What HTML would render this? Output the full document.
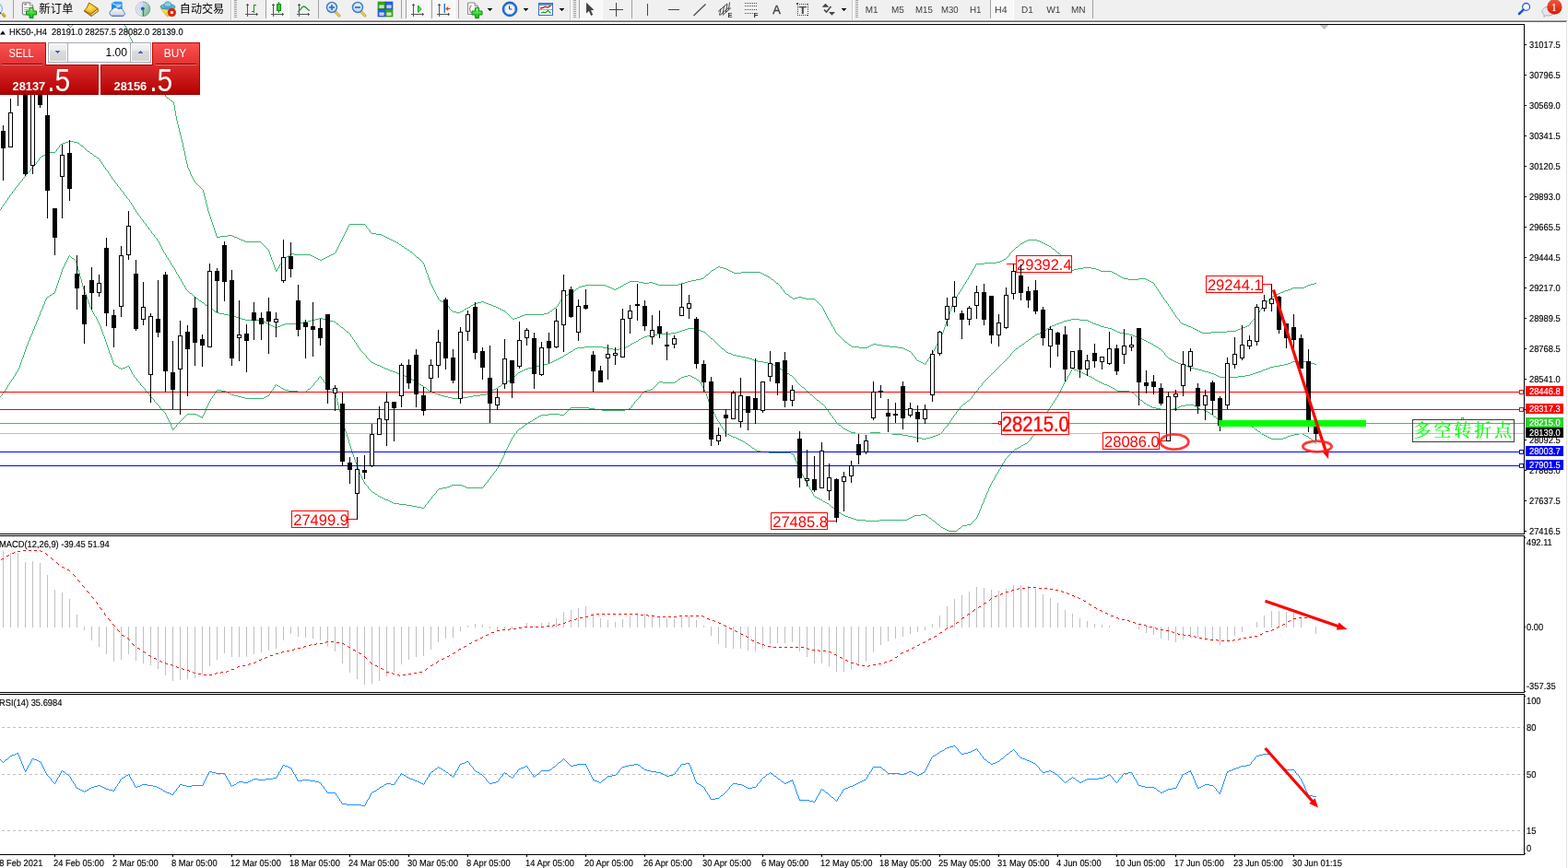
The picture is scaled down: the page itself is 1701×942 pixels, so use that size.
<!DOCTYPE html>
<html lang="zh"><head><meta charset="utf-8"><title>HK50-,H4</title>
<style>
html,body{margin:0;padding:0;background:#fff}
body{width:1701px;height:942px;position:relative;overflow:hidden;font-family:"Liberation Sans","Noto Sans CJK SC",sans-serif}
svg{position:absolute;left:0;top:0}
.t{position:absolute;white-space:nowrap;font-family:"Liberation Sans","Noto Sans CJK SC",sans-serif;font-size:10.17px;line-height:14px;height:14px;text-rendering:geometricPrecision;transform:scaleX(0.9174);transform-origin:0 0;-webkit-text-stroke:0.15px #000}
.tag{position:absolute;left:1655px;width:41px;height:11px;overflow:hidden}.tag div{position:absolute;left:3.6px;top:0px;color:#fff;font-size:10.17px;line-height:14px;white-space:nowrap;text-rendering:geometricPrecision;transform:scaleX(0.9174);transform-origin:0 0;-webkit-text-stroke:0.15px #fff}
.lab{position:absolute;border:1px solid #ff0000;color:#ff0000;text-align:center;white-space:nowrap}
.tbox{position:absolute;left:1532px;top:455px;width:109px;height:23px;border:1px solid #3c3c3c;color:#00ff00;font-family:"Liberation Serif","Noto Serif CJK SC",serif;font-weight:400;font-size:19px;line-height:23px;letter-spacing:2.9px;text-indent:0.5px;text-align:left;white-space:nowrap;-webkit-text-stroke:0.12px #00ff00}
#edge{position:absolute;left:1699px;top:24px;width:1px;height:918px;background:#e4e4e4}

</style></head>
<body>
<svg width="1701" height="942" viewBox="0 0 1701 942" shape-rendering="crispEdges">
<path d="M73 27h2v1h-2zM72 26h1v1h-1zM75 28h1v1h-1zM76 29h1v1h-1zM77 28h1v1h-1zM78 27h1v1h-1zM79 26h1v1h-1zM181 106h2v1h-2zM185 109h2v1h-2zM379 243h17v1h-17zM403 253h5v1h-5zM408 254h6v1h-6zM247 255h5v1h-5zM414 255h2v1h-2zM239 256h8v1h-8zM252 256h2v1h-2zM416 256h2v1h-2zM235 257h4v1h-4zM254 257h3v1h-3zM418 257h2v1h-2zM257 258h2v1h-2zM420 258h2v1h-2zM259 259h2v1h-2zM422 259h2v1h-2zM261 260h3v1h-3zM424 260h2v1h-2zM1115 260h10v1h-10zM264 261h2v1h-2zM426 261h2v1h-2zM1113 261h2v1h-2zM1125 261h3v1h-3zM266 262h17v1h-17zM428 262h2v1h-2zM1111 262h2v1h-2zM1128 262h2v1h-2zM430 263h2v1h-2zM1109 263h2v1h-2zM1130 263h2v1h-2zM1107 264h2v1h-2zM1132 264h2v1h-2zM433 265h2v1h-2zM1134 265h2v1h-2zM1136 266h2v1h-2zM436 267h2v1h-2zM1138 267h2v1h-2zM1102 268h2v1h-2zM439 269h2v1h-2zM1142 270h2v1h-2zM442 271h2v1h-2zM445 273h2v1h-2zM1147 274h2v1h-2zM316 275h3v1h-3zM361 275h2v1h-2zM314 276h2v1h-2zM319 276h18v1h-18zM359 276h2v1h-2zM337 277h2v1h-2zM357 277h2v1h-2zM311 278h2v1h-2zM339 278h2v1h-2zM355 278h2v1h-2zM309 279h2v1h-2zM341 279h2v1h-2zM353 279h2v1h-2zM452 279h2v1h-2zM343 280h2v1h-2zM351 280h2v1h-2zM345 281h2v1h-2zM349 281h2v1h-2zM1089 281h2v1h-2zM347 282h2v1h-2zM1087 282h2v1h-2zM1085 283h2v1h-2zM1081 284h4v1h-4zM1068 285h13v1h-13zM1059 286h9v1h-9zM779 289h2v1h-2zM777 290h2v1h-2zM781 290h4v1h-4zM1175 290h9v1h-9zM785 291h3v1h-3zM1169 291h6v1h-6zM1184 291h5v1h-5zM774 292h2v1h-2zM788 292h2v1h-2zM1165 292h4v1h-4zM1189 292h3v1h-3zM299 293h2v1h-2zM772 293h2v1h-2zM790 293h2v1h-2zM1163 293h2v1h-2zM1192 293h2v1h-2zM792 294h2v1h-2zM1194 294h12v1h-12zM794 295h2v1h-2zM804 295h21v1h-21zM1206 295h2v1h-2zM796 296h8v1h-8zM825 296h2v1h-2zM1208 296h2v1h-2zM827 297h2v1h-2zM1210 297h2v1h-2zM766 298h2v1h-2zM829 298h2v1h-2zM831 299h2v1h-2zM1213 299h2v1h-2zM833 300h2v1h-2zM1215 300h2v1h-2zM1217 301h2v1h-2zM760 302h3v1h-3zM1219 302h5v1h-5zM1235 302h8v1h-8zM755 303h5v1h-5zM837 303h2v1h-2zM1224 303h11v1h-11zM1243 303h2v1h-2zM750 304h5v1h-5zM1245 304h2v1h-2zM683 305h10v1h-10zM746 305h4v1h-4zM1247 305h2v1h-2zM681 306h2v1h-2zM693 306h5v1h-5zM704 306h4v1h-4zM743 306h3v1h-3zM1249 306h2v1h-2zM679 307h2v1h-2zM698 307h6v1h-6zM708 307h3v1h-3zM739 307h4v1h-4zM842 307h2v1h-2zM1426 307h2v1h-2zM677 308h2v1h-2zM711 308h3v1h-3zM736 308h3v1h-3zM1422 308h4v1h-4zM635 309h22v1h-22zM714 309h22v1h-22zM1419 309h3v1h-3zM631 310h4v1h-4zM657 310h2v1h-2zM674 310h2v1h-2zM1417 310h2v1h-2zM628 311h3v1h-3zM659 311h3v1h-3zM672 311h2v1h-2zM1415 311h2v1h-2zM662 312h2v1h-2zM670 312h2v1h-2zM1402 312h13v1h-13zM625 313h2v1h-2zM664 313h2v1h-2zM668 313h2v1h-2zM1400 313h2v1h-2zM666 314h2v1h-2zM1397 314h3v1h-3zM1394 315h3v1h-3zM621 316h2v1h-2zM1392 316h2v1h-2zM1389 317h3v1h-3zM618 318h2v1h-2zM1387 318h2v1h-2zM616 319h2v1h-2zM853 319h2v1h-2zM1385 319h2v1h-2zM613 320h3v1h-3zM1383 320h2v1h-2zM611 321h2v1h-2zM1381 321h2v1h-2zM857 322h2v1h-2zM866 322h4v1h-4zM1379 322h2v1h-2zM862 323h4v1h-4zM870 323h4v1h-4zM860 324h2v1h-2zM874 324h10v1h-10zM477 326h2v1h-2zM479 327h2v1h-2zM522 327h3v1h-3zM481 328h2v1h-2zM518 328h4v1h-4zM525 328h2v1h-2zM515 329h3v1h-3zM527 329h3v1h-3zM513 330h2v1h-2zM530 330h3v1h-3zM511 331h2v1h-2zM533 331h2v1h-2zM535 332h3v1h-3zM508 333h2v1h-2zM538 333h2v1h-2zM506 334h2v1h-2zM540 334h2v1h-2zM601 334h2v1h-2zM504 335h2v1h-2zM542 335h2v1h-2zM544 336h2v1h-2zM501 337h2v1h-2zM546 337h2v1h-2zM597 337h2v1h-2zM491 338h4v1h-4zM499 338h2v1h-2zM495 339h4v1h-4zM594 339h2v1h-2zM590 340h4v1h-4zM569 341h21v1h-21zM566 342h3v1h-3zM564 343h2v1h-2zM561 344h3v1h-3zM558 345h3v1h-3zM556 346h2v1h-2zM1282 351h2v1h-2zM1284 352h3v1h-3zM1287 353h2v1h-2zM1353 353h2v1h-2zM1289 354h3v1h-3zM1351 354h2v1h-2zM1292 355h2v1h-2zM1348 355h3v1h-3zM1294 356h2v1h-2zM1346 356h2v1h-2zM1296 357h2v1h-2zM1343 357h3v1h-3zM1298 358h2v1h-2zM1341 358h2v1h-2zM1300 359h2v1h-2zM1331 359h10v1h-10zM1302 360h2v1h-2zM1314 360h17v1h-17zM1304 361h10v1h-10zM917 371h2v1h-2zM947 373h4v1h-4zM921 374h2v1h-2zM945 374h2v1h-2zM951 374h6v1h-6zM943 375h2v1h-2zM957 375h8v1h-8zM924 376h8v1h-8zM941 376h2v1h-2zM965 376h9v1h-9zM932 377h9v1h-9zM974 377h6v1h-6zM980 378h2v1h-2zM982 379h2v1h-2zM984 380h2v1h-2zM986 381h2v1h-2zM995 391h2v1h-2zM997 392h2v1h-2zM999 393h2v1h-2zM1001 394h2v1h-2zM135 26h1v2h-1zM136 28h1v2h-1zM137 30h1v3h-1zM138 33h1v2h-1zM139 35h1v2h-1zM140 37h1v3h-1zM141 40h1v2h-1zM142 42h1v2h-1zM143 44h1v2h-1zM144 46h1v2h-1zM145 48h1v2h-1zM146 50h1v2h-1zM147 52h1v1h-1zM148 53h1v2h-1zM149 55h1v2h-1zM150 57h1v2h-1zM151 59h1v1h-1zM152 60h1v2h-1zM153 62h1v2h-1zM154 64h1v2h-1zM155 66h1v2h-1zM156 68h1v1h-1zM157 69h1v2h-1zM158 71h1v2h-1zM159 73h1v2h-1zM160 75h1v1h-1zM161 76h1v2h-1zM162 78h1v1h-1zM163 79h1v2h-1zM164 81h1v1h-1zM165 82h1v2h-1zM166 84h1v1h-1zM167 85h1v2h-1zM168 87h1v1h-1zM169 88h1v2h-1zM170 90h1v1h-1zM171 91h1v2h-1zM172 93h1v1h-1zM173 94h1v2h-1zM174 96h1v1h-1zM175 97h1v2h-1zM176 99h1v1h-1zM177 100h1v2h-1zM178 102h1v1h-1zM179 103h1v2h-1zM180 105h1v1h-1zM183 107h1v1h-1zM184 108h1v1h-1zM187 110h1v1h-1zM188 111h1v3h-1zM189 114h1v6h-1zM190 120h1v6h-1zM191 126h1v5h-1zM192 131h1v4h-1zM193 135h1v4h-1zM194 139h1v4h-1zM195 143h1v4h-1zM196 147h1v4h-1zM197 151h1v4h-1zM198 155h1v5h-1zM199 160h1v4h-1zM200 164h1v5h-1zM201 169h1v5h-1zM202 174h1v4h-1zM203 178h1v4h-1zM204 182h1v2h-1zM205 184h1v2h-1zM206 186h1v3h-1zM207 189h1v2h-1zM208 191h1v2h-1zM209 193h1v2h-1zM210 195h1v2h-1zM211 197h1v1h-1zM212 198h1v1h-1zM213 199h1v1h-1zM214 200h1v1h-1zM215 201h1v1h-1zM216 202h1v1h-1zM217 203h1v1h-1zM218 204h1v1h-1zM219 205h1v1h-1zM220 206h1v3h-1zM221 209h1v4h-1zM222 213h1v4h-1zM223 217h1v4h-1zM224 221h1v4h-1zM225 225h1v4h-1zM226 229h1v3h-1zM227 232h1v3h-1zM228 235h1v3h-1zM229 238h1v3h-1zM230 241h1v3h-1zM231 244h1v3h-1zM232 247h1v3h-1zM233 250h1v3h-1zM234 253h1v3h-1zM235 256h1v1h-1zM283 263h1v1h-1zM284 264h1v1h-1zM285 265h1v1h-1zM286 266h1v1h-1zM287 267h1v1h-1zM288 268h1v1h-1zM289 269h1v1h-1zM290 270h1v1h-1zM291 271h1v2h-1zM292 273h1v3h-1zM293 276h1v3h-1zM294 279h1v3h-1zM295 282h1v2h-1zM296 284h1v3h-1zM297 287h1v3h-1zM298 290h1v3h-1zM299 294h1v1h-1zM300 292h1v1h-1zM301 291h1v1h-1zM302 289h1v2h-1zM303 287h1v2h-1zM304 286h1v1h-1zM305 284h1v2h-1zM306 283h1v1h-1zM307 281h1v2h-1zM308 280h1v1h-1zM313 277h1v1h-1zM363 274h1v1h-1zM364 272h1v2h-1zM365 270h1v2h-1zM366 268h1v2h-1zM367 266h1v2h-1zM368 264h1v2h-1zM369 262h1v2h-1zM370 260h1v2h-1zM371 258h1v2h-1zM372 256h1v2h-1zM373 254h1v2h-1zM374 252h1v2h-1zM375 250h1v2h-1zM376 248h1v2h-1zM377 246h1v2h-1zM378 244h1v2h-1zM396 244h1v1h-1zM397 245h1v2h-1zM398 247h1v1h-1zM399 248h1v1h-1zM400 249h1v1h-1zM401 250h1v2h-1zM402 252h1v1h-1zM432 264h1v1h-1zM435 266h1v1h-1zM438 268h1v1h-1zM441 270h1v1h-1zM444 272h1v1h-1zM447 274h1v1h-1zM448 275h1v1h-1zM449 276h1v1h-1zM450 277h1v1h-1zM451 278h1v1h-1zM454 280h1v1h-1zM455 281h1v1h-1zM456 282h1v1h-1zM457 283h1v1h-1zM458 284h1v1h-1zM459 285h1v2h-1zM460 287h1v3h-1zM461 290h1v3h-1zM462 293h1v3h-1zM463 296h1v2h-1zM464 298h1v3h-1zM465 301h1v3h-1zM466 304h1v3h-1zM467 307h1v2h-1zM468 309h1v2h-1zM469 311h1v2h-1zM470 313h1v2h-1zM471 315h1v2h-1zM472 317h1v2h-1zM473 319h1v2h-1zM474 321h1v2h-1zM475 323h1v2h-1zM476 325h1v1h-1zM483 329h1v1h-1zM484 330h1v1h-1zM485 331h1v1h-1zM486 332h1v1h-1zM487 333h1v2h-1zM488 335h1v1h-1zM489 336h1v1h-1zM490 337h1v1h-1zM503 336h1v1h-1zM510 332h1v1h-1zM548 338h1v1h-1zM549 339h1v1h-1zM550 340h1v1h-1zM551 341h1v1h-1zM552 342h1v1h-1zM553 343h1v1h-1zM554 344h1v1h-1zM555 345h1v1h-1zM596 338h1v1h-1zM599 336h1v1h-1zM600 335h1v1h-1zM603 333h1v1h-1zM604 332h1v1h-1zM605 330h1v2h-1zM606 329h1v1h-1zM607 327h1v2h-1zM608 325h1v2h-1zM609 324h1v1h-1zM610 322h1v2h-1zM620 317h1v1h-1zM623 315h1v1h-1zM624 314h1v1h-1zM627 312h1v1h-1zM676 309h1v1h-1zM763 301h1v1h-1zM764 300h1v1h-1zM765 299h1v1h-1zM768 297h1v1h-1zM769 296h1v1h-1zM770 295h1v1h-1zM771 294h1v1h-1zM776 291h1v1h-1zM835 301h1v1h-1zM836 302h1v1h-1zM839 304h1v1h-1zM840 305h1v1h-1zM841 306h1v1h-1zM844 308h1v1h-1zM845 309h1v1h-1zM846 310h1v1h-1zM847 311h1v2h-1zM848 313h1v1h-1zM849 314h1v1h-1zM850 315h1v2h-1zM851 317h1v1h-1zM852 318h1v1h-1zM855 320h1v1h-1zM856 321h1v1h-1zM859 323h1v1h-1zM884 325h1v1h-1zM885 326h1v1h-1zM886 327h1v1h-1zM887 328h1v1h-1zM888 329h1v1h-1zM889 330h1v1h-1zM890 331h1v1h-1zM891 332h1v1h-1zM892 333h1v2h-1zM893 335h1v2h-1zM894 337h1v2h-1zM895 339h1v2h-1zM896 341h1v2h-1zM897 343h1v2h-1zM898 345h1v2h-1zM899 347h1v1h-1zM900 348h1v2h-1zM901 350h1v2h-1zM902 352h1v2h-1zM903 354h1v1h-1zM904 355h1v2h-1zM905 357h1v2h-1zM906 359h1v2h-1zM907 361h1v1h-1zM908 362h1v1h-1zM909 363h1v1h-1zM910 364h1v1h-1zM911 365h1v1h-1zM912 366h1v1h-1zM913 367h1v1h-1zM914 368h1v1h-1zM915 369h1v1h-1zM916 370h1v1h-1zM919 372h1v1h-1zM920 373h1v1h-1zM923 375h1v1h-1zM988 382h1v1h-1zM989 383h1v2h-1zM990 385h1v1h-1zM991 386h1v1h-1zM992 387h1v1h-1zM993 388h1v2h-1zM994 390h1v1h-1zM1003 395h1v1h-1zM1004 393h1v2h-1zM1005 392h1v1h-1zM1006 390h1v2h-1zM1007 389h1v1h-1zM1008 387h1v2h-1zM1009 386h1v1h-1zM1010 384h1v2h-1zM1011 383h1v1h-1zM1012 381h1v2h-1zM1013 379h1v2h-1zM1014 377h1v2h-1zM1015 375h1v2h-1zM1016 373h1v2h-1zM1017 371h1v2h-1zM1018 369h1v2h-1zM1019 367h1v2h-1zM1020 365h1v2h-1zM1021 363h1v2h-1zM1022 361h1v2h-1zM1023 358h1v3h-1zM1024 355h1v3h-1zM1025 352h1v3h-1zM1026 349h1v3h-1zM1027 346h1v3h-1zM1028 343h1v3h-1zM1029 341h1v2h-1zM1030 338h1v3h-1zM1031 335h1v3h-1zM1032 332h1v3h-1zM1033 330h1v2h-1zM1034 327h1v3h-1zM1035 325h1v2h-1zM1036 323h1v2h-1zM1037 322h1v1h-1zM1038 320h1v2h-1zM1039 319h1v1h-1zM1040 317h1v2h-1zM1041 316h1v1h-1zM1042 314h1v2h-1zM1043 313h1v1h-1zM1044 311h1v2h-1zM1045 309h1v2h-1zM1046 308h1v1h-1zM1047 306h1v2h-1zM1048 304h1v2h-1zM1049 303h1v1h-1zM1050 301h1v2h-1zM1051 299h1v2h-1zM1052 298h1v1h-1zM1053 296h1v2h-1zM1054 294h1v2h-1zM1055 292h1v2h-1zM1056 291h1v1h-1zM1057 289h1v2h-1zM1058 287h1v2h-1zM1091 280h1v1h-1zM1092 279h1v1h-1zM1093 278h1v1h-1zM1094 277h1v1h-1zM1095 275h1v2h-1zM1096 274h1v1h-1zM1097 273h1v1h-1zM1098 272h1v1h-1zM1099 271h1v1h-1zM1100 270h1v1h-1zM1101 269h1v1h-1zM1104 267h1v1h-1zM1105 266h1v1h-1zM1106 265h1v1h-1zM1140 268h1v1h-1zM1141 269h1v1h-1zM1144 271h1v1h-1zM1145 272h1v1h-1zM1146 273h1v1h-1zM1149 275h1v1h-1zM1150 276h1v1h-1zM1151 277h1v2h-1zM1152 279h1v1h-1zM1153 280h1v1h-1zM1154 281h1v2h-1zM1155 283h1v1h-1zM1156 284h1v1h-1zM1157 285h1v1h-1zM1158 286h1v2h-1zM1159 288h1v1h-1zM1160 289h1v1h-1zM1161 290h1v2h-1zM1162 292h1v1h-1zM1212 298h1v1h-1zM1251 307h1v1h-1zM1252 308h1v2h-1zM1253 310h1v1h-1zM1254 311h1v2h-1zM1255 313h1v1h-1zM1256 314h1v2h-1zM1257 316h1v1h-1zM1258 317h1v2h-1zM1259 319h1v1h-1zM1260 320h1v2h-1zM1261 322h1v1h-1zM1262 323h1v2h-1zM1263 325h1v1h-1zM1264 326h1v1h-1zM1265 327h1v2h-1zM1266 329h1v1h-1zM1267 330h1v2h-1zM1268 332h1v1h-1zM1269 333h1v2h-1zM1270 335h1v1h-1zM1271 336h1v2h-1zM1272 338h1v1h-1zM1273 339h1v2h-1zM1274 341h1v1h-1zM1275 342h1v2h-1zM1276 344h1v1h-1zM1277 345h1v1h-1zM1278 346h1v1h-1zM1279 347h1v2h-1zM1280 349h1v1h-1zM1281 350h1v1h-1zM1355 352h1v1h-1zM1356 350h1v2h-1zM1357 349h1v1h-1zM1358 348h1v1h-1zM1359 347h1v1h-1zM1360 346h1v1h-1zM1361 344h1v2h-1zM1362 343h1v1h-1zM1363 342h1v1h-1zM1364 340h1v2h-1zM1365 339h1v1h-1zM1366 337h1v2h-1zM1367 336h1v1h-1zM1368 334h1v2h-1zM1369 333h1v1h-1zM1370 331h1v2h-1zM1371 330h1v1h-1zM1372 329h1v1h-1zM1373 328h1v1h-1zM1374 327h1v1h-1zM1375 326h1v1h-1zM1376 325h1v1h-1zM1377 324h1v1h-1zM1378 323h1v1h-1zM74 153h6v1h-6zM71 154h3v1h-3zM80 154h4v1h-4zM68 155h3v1h-3zM84 155h2v1h-2zM66 156h2v1h-2zM88 158h2v1h-2zM95 164h2v1h-2zM54 165h6v1h-6zM51 166h3v1h-3zM98 166h2v1h-2zM49 167h2v1h-2zM47 168h2v1h-2zM45 169h2v1h-2zM102 169h2v1h-2zM105 171h2v1h-2zM206 318h2v1h-2zM212 323h2v1h-2zM216 326h2v1h-2zM219 328h2v1h-2zM223 331h2v1h-2zM226 333h2v1h-2zM229 335h2v1h-2zM233 338h2v1h-2zM235 339h3v1h-3zM238 340h5v1h-5zM243 341h5v1h-5zM248 342h4v1h-4zM252 343h4v1h-4zM256 344h3v1h-3zM259 345h3v1h-3zM346 345h4v1h-4zM262 346h4v1h-4zM342 346h4v1h-4zM350 346h4v1h-4zM1162 346h9v1h-9zM266 347h18v1h-18zM338 347h4v1h-4zM354 347h4v1h-4zM1158 347h4v1h-4zM1171 347h9v1h-9zM284 348h2v1h-2zM334 348h4v1h-4zM358 348h4v1h-4zM1154 348h4v1h-4zM1180 348h2v1h-2zM286 349h2v1h-2zM329 349h5v1h-5zM362 349h2v1h-2zM1152 349h2v1h-2zM1182 349h2v1h-2zM288 350h2v1h-2zM323 350h6v1h-6zM1149 350h3v1h-3zM1184 350h2v1h-2zM290 351h2v1h-2zM309 351h14v1h-14zM365 351h2v1h-2zM1146 351h3v1h-3zM1186 351h3v1h-3zM292 352h2v1h-2zM306 352h3v1h-3zM1144 352h2v1h-2zM1189 352h3v1h-3zM294 353h2v1h-2zM304 353h2v1h-2zM1141 353h3v1h-3zM1192 353h2v1h-2zM296 354h2v1h-2zM301 354h3v1h-3zM1139 354h2v1h-2zM1194 354h4v1h-4zM298 355h3v1h-3zM370 355h2v1h-2zM1198 355h4v1h-4zM746 356h8v1h-8zM1136 356h2v1h-2zM1202 356h4v1h-4zM743 357h3v1h-3zM754 357h3v1h-3zM1206 357h2v1h-2zM740 358h3v1h-3zM757 358h3v1h-3zM1208 358h2v1h-2zM737 359h3v1h-3zM760 359h3v1h-3zM1132 359h2v1h-2zM1210 359h2v1h-2zM376 360h2v1h-2zM734 360h3v1h-3zM763 360h2v1h-2zM1130 360h2v1h-2zM1212 360h3v1h-3zM728 361h6v1h-6zM1128 361h2v1h-2zM1215 361h5v1h-5zM713 362h15v1h-15zM1125 362h3v1h-3zM1220 362h5v1h-5zM708 363h5v1h-5zM1123 363h2v1h-2zM1225 363h4v1h-4zM702 364h6v1h-6zM1229 364h2v1h-2zM699 365h3v1h-3zM1120 365h2v1h-2zM1231 365h3v1h-3zM697 366h2v1h-2zM1234 366h2v1h-2zM695 367h2v1h-2zM771 367h2v1h-2zM1236 367h3v1h-3zM693 368h2v1h-2zM1116 368h2v1h-2zM1239 368h2v1h-2zM1241 369h2v1h-2zM690 370h2v1h-2zM1113 370h2v1h-2zM1243 370h2v1h-2zM688 371h2v1h-2zM1245 371h2v1h-2zM686 372h2v1h-2zM1247 372h2v1h-2zM684 373h2v1h-2zM1109 373h2v1h-2zM1249 373h2v1h-2zM681 375h2v1h-2zM1106 375h2v1h-2zM1252 375h2v1h-2zM634 376h20v1h-20zM679 376h2v1h-2zM1254 376h2v1h-2zM626 377h8v1h-8zM654 377h6v1h-6zM677 377h2v1h-2zM624 378h2v1h-2zM660 378h5v1h-5zM672 378h5v1h-5zM783 378h2v1h-2zM1102 378h2v1h-2zM1257 378h2v1h-2zM622 379h2v1h-2zM665 379h7v1h-7zM619 381h2v1h-2zM617 382h2v1h-2zM788 382h2v1h-2zM790 383h3v1h-3zM614 384h2v1h-2zM793 384h2v1h-2zM612 385h2v1h-2zM795 385h4v1h-4zM799 386h5v1h-5zM609 387h2v1h-2zM804 387h5v1h-5zM607 388h2v1h-2zM809 388h4v1h-4zM605 389h2v1h-2zM813 389h3v1h-3zM1268 389h2v1h-2zM603 390h2v1h-2zM816 390h2v1h-2zM1270 390h2v1h-2zM601 391h2v1h-2zM818 391h4v1h-4zM1272 391h2v1h-2zM599 392h2v1h-2zM822 392h6v1h-6zM1274 392h2v1h-2zM1402 392h15v1h-15zM403 393h2v1h-2zM597 393h2v1h-2zM828 393h5v1h-5zM1276 393h2v1h-2zM1400 393h2v1h-2zM1417 393h5v1h-5zM405 394h2v1h-2zM594 394h3v1h-3zM833 394h4v1h-4zM1278 394h3v1h-3zM1397 394h3v1h-3zM1422 394h4v1h-4zM407 395h2v1h-2zM590 395h4v1h-4zM837 395h2v1h-2zM1281 395h3v1h-3zM1393 395h4v1h-4zM1426 395h2v1h-2zM409 396h3v1h-3zM586 396h4v1h-4zM839 396h2v1h-2zM1284 396h3v1h-3zM1388 396h5v1h-5zM412 397h2v1h-2zM582 397h4v1h-4zM841 397h2v1h-2zM1287 397h2v1h-2zM1382 397h6v1h-6zM414 398h2v1h-2zM577 398h5v1h-5zM843 398h2v1h-2zM1289 398h3v1h-3zM1378 398h4v1h-4zM416 399h2v1h-2zM573 399h4v1h-4zM1292 399h4v1h-4zM1376 399h2v1h-2zM418 400h3v1h-3zM570 400h3v1h-3zM846 400h2v1h-2zM1296 400h4v1h-4zM1373 400h3v1h-3zM421 401h2v1h-2zM568 401h2v1h-2zM1300 401h4v1h-4zM1370 401h3v1h-3zM423 402h3v1h-3zM566 402h2v1h-2zM849 402h2v1h-2zM1304 402h3v1h-3zM1368 402h2v1h-2zM426 403h3v1h-3zM564 403h2v1h-2zM1307 403h4v1h-4zM1365 403h3v1h-3zM429 404h2v1h-2zM562 404h2v1h-2zM852 404h2v1h-2zM1311 404h3v1h-3zM1362 404h3v1h-3zM431 405h3v1h-3zM854 405h2v1h-2zM1314 405h3v1h-3zM1359 405h3v1h-3zM434 406h2v1h-2zM1317 406h2v1h-2zM1356 406h3v1h-3zM436 407h3v1h-3zM857 407h2v1h-2zM1319 407h2v1h-2zM1351 407h5v1h-5zM439 408h2v1h-2zM1321 408h2v1h-2zM1343 408h8v1h-8zM441 409h2v1h-2zM1323 409h20v1h-20zM443 410h2v1h-2zM445 411h2v1h-2zM447 412h2v1h-2zM553 412h2v1h-2zM551 413h2v1h-2zM450 414h2v1h-2zM549 414h2v1h-2zM452 415h2v1h-2zM547 415h2v1h-2zM545 416h2v1h-2zM455 417h2v1h-2zM457 418h2v1h-2zM541 419h2v1h-2zM460 420h2v1h-2zM870 420h2v1h-2zM538 421h2v1h-2zM536 422h2v1h-2zM464 423h2v1h-2zM534 423h2v1h-2zM532 424h2v1h-2zM467 425h2v1h-2zM469 426h3v1h-3zM529 426h2v1h-2zM472 427h3v1h-3zM527 427h2v1h-2zM475 428h3v1h-3zM521 428h6v1h-6zM879 428h2v1h-2zM478 429h4v1h-4zM513 429h8v1h-8zM482 430h4v1h-4zM508 430h5v1h-5zM486 431h4v1h-4zM502 431h6v1h-6zM490 432h12v1h-12zM886 434h2v1h-2zM1049 435h2v1h-2zM891 438h2v1h-2zM1045 438h2v1h-2zM910 461h2v1h-2zM915 465h2v1h-2zM917 466h2v1h-2zM919 467h2v1h-2zM921 468h2v1h-2zM923 469h5v1h-5zM944 469h11v1h-11zM928 470h16v1h-16zM955 470h13v1h-13zM968 471h11v1h-11zM1018 471h2v1h-2zM979 472h6v1h-6zM1015 472h3v1h-3zM985 473h5v1h-5zM1012 473h3v1h-3zM990 474h4v1h-4zM1009 474h3v1h-3zM994 475h6v1h-6zM1005 475h4v1h-4zM1000 476h5v1h-5zM0 227h1v1h-1zM1 225h1v2h-1zM2 224h1v1h-1zM3 222h1v2h-1zM4 221h1v1h-1zM5 220h1v1h-1zM6 218h1v2h-1zM7 217h1v1h-1zM8 215h1v2h-1zM9 214h1v1h-1zM10 212h1v2h-1zM11 211h1v1h-1zM12 210h1v1h-1zM13 208h1v2h-1zM14 207h1v1h-1zM15 206h1v1h-1zM16 204h1v2h-1zM17 203h1v1h-1zM18 202h1v1h-1zM19 201h1v1h-1zM20 199h1v2h-1zM21 198h1v1h-1zM22 197h1v1h-1zM23 196h1v1h-1zM24 194h1v2h-1zM25 193h1v1h-1zM26 192h1v1h-1zM27 190h1v2h-1zM28 189h1v1h-1zM29 188h1v1h-1zM30 187h1v1h-1zM31 186h1v1h-1zM32 185h1v1h-1zM33 183h1v2h-1zM34 182h1v1h-1zM35 181h1v1h-1zM36 180h1v1h-1zM37 179h1v1h-1zM38 178h1v1h-1zM39 176h1v2h-1zM40 175h1v1h-1zM41 174h1v1h-1zM42 172h1v2h-1zM43 171h1v1h-1zM44 170h1v1h-1zM60 164h1v1h-1zM61 162h1v2h-1zM62 161h1v1h-1zM63 160h1v1h-1zM64 158h1v2h-1zM65 157h1v1h-1zM86 156h1v1h-1zM87 157h1v1h-1zM90 159h1v1h-1zM91 160h1v1h-1zM92 161h1v1h-1zM93 162h1v1h-1zM94 163h1v1h-1zM97 165h1v1h-1zM100 167h1v1h-1zM101 168h1v1h-1zM104 170h1v1h-1zM107 172h1v1h-1zM108 173h1v2h-1zM109 175h1v1h-1zM110 176h1v2h-1zM111 178h1v1h-1zM112 179h1v2h-1zM113 181h1v1h-1zM114 182h1v2h-1zM115 184h1v1h-1zM116 185h1v1h-1zM117 186h1v2h-1zM118 188h1v1h-1zM119 189h1v2h-1zM120 191h1v1h-1zM121 192h1v2h-1zM122 194h1v1h-1zM123 195h1v1h-1zM124 196h1v2h-1zM125 198h1v1h-1zM126 199h1v1h-1zM127 200h1v2h-1zM128 202h1v1h-1zM129 203h1v1h-1zM130 204h1v2h-1zM131 206h1v1h-1zM132 207h1v1h-1zM133 208h1v1h-1zM134 209h1v2h-1zM135 211h1v1h-1zM136 212h1v1h-1zM137 213h1v2h-1zM138 215h1v1h-1zM139 216h1v1h-1zM140 217h1v2h-1zM141 219h1v1h-1zM142 220h1v2h-1zM143 222h1v1h-1zM144 223h1v2h-1zM145 225h1v2h-1zM146 227h1v1h-1zM147 228h1v2h-1zM148 230h1v1h-1zM149 231h1v2h-1zM150 233h1v1h-1zM151 234h1v1h-1zM152 235h1v2h-1zM153 237h1v1h-1zM154 238h1v1h-1zM155 239h1v2h-1zM156 241h1v1h-1zM157 242h1v1h-1zM158 243h1v2h-1zM159 245h1v1h-1zM160 246h1v1h-1zM161 247h1v2h-1zM162 249h1v1h-1zM163 250h1v1h-1zM164 251h1v2h-1zM165 253h1v1h-1zM166 254h1v1h-1zM167 255h1v2h-1zM168 257h1v1h-1zM169 258h1v1h-1zM170 259h1v2h-1zM171 261h1v1h-1zM172 262h1v2h-1zM173 264h1v2h-1zM174 266h1v2h-1zM175 268h1v2h-1zM176 270h1v2h-1zM177 272h1v2h-1zM178 274h1v1h-1zM179 275h1v2h-1zM180 277h1v2h-1zM181 279h1v1h-1zM182 280h1v2h-1zM183 282h1v1h-1zM184 283h1v2h-1zM185 285h1v2h-1zM186 287h1v1h-1zM187 288h1v2h-1zM188 290h1v1h-1zM189 291h1v2h-1zM190 293h1v2h-1zM191 295h1v2h-1zM192 297h1v1h-1zM193 298h1v2h-1zM194 300h1v2h-1zM195 302h1v1h-1zM196 303h1v2h-1zM197 305h1v2h-1zM198 307h1v2h-1zM199 309h1v1h-1zM200 310h1v2h-1zM201 312h1v2h-1zM202 314h1v1h-1zM203 315h1v1h-1zM204 316h1v1h-1zM205 317h1v1h-1zM208 319h1v1h-1zM209 320h1v1h-1zM210 321h1v1h-1zM211 322h1v1h-1zM214 324h1v1h-1zM215 325h1v1h-1zM218 327h1v1h-1zM221 329h1v1h-1zM222 330h1v1h-1zM225 332h1v1h-1zM228 334h1v1h-1zM231 336h1v1h-1zM232 337h1v1h-1zM364 350h1v1h-1zM367 352h1v1h-1zM368 353h1v1h-1zM369 354h1v1h-1zM372 356h1v1h-1zM373 357h1v1h-1zM374 358h1v1h-1zM375 359h1v1h-1zM378 361h1v1h-1zM379 362h1v1h-1zM380 363h1v2h-1zM381 365h1v1h-1zM382 366h1v2h-1zM383 368h1v1h-1zM384 369h1v2h-1zM385 371h1v1h-1zM386 372h1v2h-1zM387 374h1v1h-1zM388 375h1v2h-1zM389 377h1v1h-1zM390 378h1v2h-1zM391 380h1v1h-1zM392 381h1v1h-1zM393 382h1v1h-1zM394 383h1v1h-1zM395 384h1v1h-1zM396 385h1v1h-1zM397 386h1v2h-1zM398 388h1v1h-1zM399 389h1v1h-1zM400 390h1v1h-1zM401 391h1v1h-1zM402 392h1v1h-1zM449 413h1v1h-1zM454 416h1v1h-1zM459 419h1v1h-1zM462 421h1v1h-1zM463 422h1v1h-1zM466 424h1v1h-1zM531 425h1v1h-1zM540 420h1v1h-1zM543 418h1v1h-1zM544 417h1v1h-1zM555 411h1v1h-1zM556 410h1v1h-1zM557 409h1v1h-1zM558 408h1v1h-1zM559 407h1v1h-1zM560 406h1v1h-1zM561 405h1v1h-1zM611 386h1v1h-1zM616 383h1v1h-1zM621 380h1v1h-1zM683 374h1v1h-1zM692 369h1v1h-1zM765 361h1v1h-1zM766 362h1v1h-1zM767 363h1v1h-1zM768 364h1v1h-1zM769 365h1v1h-1zM770 366h1v1h-1zM773 368h1v1h-1zM774 369h1v1h-1zM775 370h1v1h-1zM776 371h1v1h-1zM777 372h1v1h-1zM778 373h1v1h-1zM779 374h1v1h-1zM780 375h1v1h-1zM781 376h1v1h-1zM782 377h1v1h-1zM785 379h1v1h-1zM786 380h1v1h-1zM787 381h1v1h-1zM845 399h1v1h-1zM848 401h1v1h-1zM851 403h1v1h-1zM856 406h1v1h-1zM859 408h1v1h-1zM860 409h1v1h-1zM861 410h1v1h-1zM862 411h1v1h-1zM863 412h1v2h-1zM864 414h1v1h-1zM865 415h1v1h-1zM866 416h1v1h-1zM867 417h1v1h-1zM868 418h1v1h-1zM869 419h1v1h-1zM872 421h1v1h-1zM873 422h1v1h-1zM874 423h1v1h-1zM875 424h1v1h-1zM876 425h1v1h-1zM877 426h1v1h-1zM878 427h1v1h-1zM881 429h1v1h-1zM882 430h1v1h-1zM883 431h1v1h-1zM884 432h1v1h-1zM885 433h1v1h-1zM888 435h1v1h-1zM889 436h1v1h-1zM890 437h1v1h-1zM893 439h1v1h-1zM894 440h1v1h-1zM895 441h1v2h-1zM896 443h1v1h-1zM897 444h1v1h-1zM898 445h1v2h-1zM899 447h1v1h-1zM900 448h1v2h-1zM901 450h1v1h-1zM902 451h1v1h-1zM903 452h1v2h-1zM904 454h1v1h-1zM905 455h1v1h-1zM906 456h1v2h-1zM907 458h1v1h-1zM908 459h1v1h-1zM909 460h1v1h-1zM912 462h1v1h-1zM913 463h1v1h-1zM914 464h1v1h-1zM1020 470h1v1h-1zM1021 469h1v1h-1zM1022 468h1v1h-1zM1023 466h1v2h-1zM1024 465h1v1h-1zM1025 464h1v1h-1zM1026 463h1v1h-1zM1027 462h1v1h-1zM1028 460h1v2h-1zM1029 459h1v1h-1zM1030 457h1v2h-1zM1031 456h1v1h-1zM1032 454h1v2h-1zM1033 453h1v1h-1zM1034 451h1v2h-1zM1035 450h1v1h-1zM1036 449h1v1h-1zM1037 447h1v2h-1zM1038 446h1v1h-1zM1039 445h1v1h-1zM1040 444h1v1h-1zM1041 442h1v2h-1zM1042 441h1v1h-1zM1043 440h1v1h-1zM1044 439h1v1h-1zM1047 437h1v1h-1zM1048 436h1v1h-1zM1051 434h1v1h-1zM1052 433h1v1h-1zM1053 432h1v1h-1zM1054 430h1v2h-1zM1055 429h1v1h-1zM1056 428h1v1h-1zM1057 426h1v2h-1zM1058 425h1v1h-1zM1059 424h1v1h-1zM1060 423h1v1h-1zM1061 421h1v2h-1zM1062 420h1v1h-1zM1063 419h1v1h-1zM1064 418h1v1h-1zM1065 416h1v2h-1zM1066 415h1v1h-1zM1067 414h1v1h-1zM1068 413h1v1h-1zM1069 412h1v1h-1zM1070 411h1v1h-1zM1071 410h1v1h-1zM1072 409h1v1h-1zM1073 408h1v1h-1zM1074 407h1v1h-1zM1075 406h1v1h-1zM1076 405h1v1h-1zM1077 404h1v1h-1zM1078 403h1v1h-1zM1079 402h1v1h-1zM1080 401h1v1h-1zM1081 400h1v1h-1zM1082 399h1v1h-1zM1083 398h1v1h-1zM1084 397h1v1h-1zM1085 396h1v1h-1zM1086 395h1v1h-1zM1087 394h1v1h-1zM1088 393h1v1h-1zM1089 392h1v1h-1zM1090 391h1v1h-1zM1091 390h1v1h-1zM1092 389h1v1h-1zM1093 388h1v1h-1zM1094 387h1v1h-1zM1095 386h1v1h-1zM1096 384h1v2h-1zM1097 383h1v1h-1zM1098 382h1v1h-1zM1099 381h1v1h-1zM1100 380h1v1h-1zM1101 379h1v1h-1zM1104 377h1v1h-1zM1105 376h1v1h-1zM1108 374h1v1h-1zM1111 372h1v1h-1zM1112 371h1v1h-1zM1115 369h1v1h-1zM1118 367h1v1h-1zM1119 366h1v1h-1zM1122 364h1v1h-1zM1134 358h1v1h-1zM1135 357h1v1h-1zM1138 355h1v1h-1zM1251 374h1v1h-1zM1256 377h1v1h-1zM1259 379h1v1h-1zM1260 380h1v1h-1zM1261 381h1v1h-1zM1262 382h1v1h-1zM1263 383h1v2h-1zM1264 385h1v1h-1zM1265 386h1v1h-1zM1266 387h1v1h-1zM1267 388h1v1h-1zM78 280h2v1h-2zM57 318h2v1h-2zM54 320h2v1h-2zM51 322h2v1h-2zM124 396h2v1h-2zM126 397h2v1h-2zM138 397h2v1h-2zM136 398h2v1h-2zM129 399h2v1h-2zM133 399h3v1h-3zM131 400h2v1h-2zM1163 400h2v1h-2zM1165 401h3v1h-3zM1168 402h2v1h-2zM1170 403h3v1h-3zM1173 404h2v1h-2zM1175 405h2v1h-2zM1177 406h2v1h-2zM746 407h3v1h-3zM1179 407h2v1h-2zM742 408h4v1h-4zM749 408h2v1h-2zM1181 408h2v1h-2zM739 409h3v1h-3zM751 409h2v1h-2zM1183 409h2v1h-2zM753 410h2v1h-2zM1185 410h2v1h-2zM736 411h2v1h-2zM756 412h2v1h-2zM1188 412h2v1h-2zM1190 413h2v1h-2zM715 414h4v1h-4zM732 414h2v1h-2zM1192 414h2v1h-2zM719 415h13v1h-13zM1194 415h2v1h-2zM1196 416h2v1h-2zM1198 417h3v1h-3zM300 418h2v1h-2zM1201 418h2v1h-2zM302 419h2v1h-2zM1203 419h2v1h-2zM1205 420h2v1h-2zM305 421h2v1h-2zM1207 421h2v1h-2zM307 422h2v1h-2zM334 422h2v1h-2zM358 422h2v1h-2zM706 422h2v1h-2zM235 423h5v1h-5zM309 423h4v1h-4zM702 423h4v1h-4zM1210 423h2v1h-2zM240 424h5v1h-5zM313 424h10v1h-10zM699 424h3v1h-3zM1212 424h13v1h-13zM245 425h2v1h-2zM323 425h9v1h-9zM1225 425h3v1h-3zM247 426h2v1h-2zM1228 426h2v1h-2zM249 427h2v1h-2zM251 428h3v1h-3zM254 429h4v1h-4zM290 429h2v1h-2zM258 430h4v1h-4zM288 430h2v1h-2zM262 431h4v1h-4zM286 431h2v1h-2zM266 432h20v1h-20zM1237 434h2v1h-2zM1241 437h2v1h-2zM1244 439h2v1h-2zM1286 439h9v1h-9zM1246 440h2v1h-2zM1281 440h5v1h-5zM1295 440h2v1h-2zM1248 441h2v1h-2zM1279 441h2v1h-2zM619 442h20v1h-20zM1250 442h4v1h-4zM1277 442h2v1h-2zM1298 442h2v1h-2zM639 443h6v1h-6zM682 443h2v1h-2zM1254 443h5v1h-5zM1273 443h4v1h-4zM1300 443h2v1h-2zM645 444h8v1h-8zM678 444h4v1h-4zM1259 444h14v1h-14zM1302 444h4v1h-4zM653 445h25v1h-25zM1306 445h2v1h-2zM1308 446h2v1h-2zM1310 447h2v1h-2zM203 449h10v1h-10zM595 449h12v1h-12zM1313 449h2v1h-2zM213 450h2v1h-2zM587 450h8v1h-8zM607 450h5v1h-5zM215 451h2v1h-2zM585 451h2v1h-2zM217 452h3v1h-3zM583 452h2v1h-2zM1317 452h2v1h-2zM580 454h2v1h-2zM578 455h2v1h-2zM1321 455h3v1h-3zM1324 456h5v1h-5zM575 457h2v1h-2zM1329 457h4v1h-4zM573 458h2v1h-2zM1333 458h5v1h-5zM1338 459h5v1h-5zM570 460h2v1h-2zM1343 460h6v1h-6zM1349 461h6v1h-6zM1355 462h3v1h-3zM566 463h2v1h-2zM1358 463h2v1h-2zM187 465h2v1h-2zM563 465h2v1h-2zM1362 466h2v1h-2zM1365 468h2v1h-2zM787 470h2v1h-2zM1409 470h4v1h-4zM789 471h2v1h-2zM1369 471h2v1h-2zM1404 471h5v1h-5zM1413 471h2v1h-2zM791 472h2v1h-2zM1371 472h2v1h-2zM1400 472h4v1h-4zM1415 472h2v1h-2zM793 473h2v1h-2zM1373 473h2v1h-2zM1397 473h3v1h-3zM1417 473h2v1h-2zM795 474h3v1h-3zM1375 474h2v1h-2zM1395 474h2v1h-2zM798 475h2v1h-2zM1377 475h2v1h-2zM1392 475h3v1h-3zM1420 475h2v1h-2zM800 476h2v1h-2zM1379 476h13v1h-13zM802 477h2v1h-2zM804 478h2v1h-2zM806 479h2v1h-2zM809 481h2v1h-2zM1112 481h2v1h-2zM1110 482h2v1h-2zM812 483h2v1h-2zM1108 483h2v1h-2zM1105 485h2v1h-2zM816 486h2v1h-2zM1103 486h2v1h-2zM1101 487h2v1h-2zM819 488h2v1h-2zM821 489h4v1h-4zM825 490h9v1h-9zM834 491h24v1h-24zM858 492h3v1h-3zM490 526h11v1h-11zM488 527h2v1h-2zM501 527h3v1h-3zM485 528h3v1h-3zM504 528h2v1h-2zM480 529h5v1h-5zM506 529h18v1h-18zM476 530h4v1h-4zM404 534h2v1h-2zM407 536h2v1h-2zM410 538h2v1h-2zM412 539h2v1h-2zM884 539h2v1h-2zM414 540h2v1h-2zM886 540h2v1h-2zM416 541h2v1h-2zM888 541h2v1h-2zM418 542h3v1h-3zM890 542h2v1h-2zM421 543h2v1h-2zM423 544h2v1h-2zM893 544h2v1h-2zM425 545h2v1h-2zM895 545h2v1h-2zM427 546h6v1h-6zM897 546h2v1h-2zM433 547h8v1h-8zM441 548h6v1h-6zM447 549h5v1h-5zM452 550h5v1h-5zM902 550h2v1h-2zM457 551h3v1h-3zM908 555h2v1h-2zM910 556h2v1h-2zM913 558h2v1h-2zM999 558h5v1h-5zM915 559h2v1h-2zM992 559h7v1h-7zM1004 559h2v1h-2zM917 560h3v1h-3zM990 560h2v1h-2zM920 561h3v1h-3zM988 561h2v1h-2zM923 562h3v1h-3zM986 562h2v1h-2zM1008 562h2v1h-2zM926 563h3v1h-3zM984 563h2v1h-2zM929 564h10v1h-10zM954 564h30v1h-30zM939 565h15v1h-15zM1012 565h2v1h-2zM1017 569h2v1h-2zM1049 569h4v1h-4zM1044 570h5v1h-5zM1021 572h2v1h-2zM1023 573h2v1h-2zM1040 573h2v1h-2zM1025 574h2v1h-2zM1027 575h2v1h-2zM1029 576h9v1h-9zM0 430h1v1h-1zM1 429h1v1h-1zM2 427h1v2h-1zM3 426h1v1h-1zM4 425h1v1h-1zM5 423h1v2h-1zM6 422h1v1h-1zM7 420h1v2h-1zM8 418h1v2h-1zM9 417h1v1h-1zM10 415h1v2h-1zM11 414h1v1h-1zM12 412h1v2h-1zM13 411h1v1h-1zM14 409h1v2h-1zM15 408h1v1h-1zM16 406h1v2h-1zM17 404h1v2h-1zM18 403h1v1h-1zM19 401h1v2h-1zM20 399h1v2h-1zM21 396h1v3h-1zM22 393h1v3h-1zM23 390h1v3h-1zM24 388h1v2h-1zM25 385h1v3h-1zM26 382h1v3h-1zM27 379h1v3h-1zM28 376h1v3h-1zM29 374h1v2h-1zM30 371h1v3h-1zM31 369h1v2h-1zM32 366h1v3h-1zM33 364h1v2h-1zM34 362h1v2h-1zM35 359h1v3h-1zM36 357h1v2h-1zM37 354h1v3h-1zM38 352h1v2h-1zM39 349h1v3h-1zM40 347h1v2h-1zM41 344h1v3h-1zM42 342h1v2h-1zM43 339h1v3h-1zM44 337h1v2h-1zM45 335h1v2h-1zM46 332h1v3h-1zM47 330h1v2h-1zM48 327h1v3h-1zM49 325h1v2h-1zM50 323h1v2h-1zM53 321h1v1h-1zM56 319h1v1h-1zM59 316h1v2h-1zM60 313h1v3h-1zM61 310h1v3h-1zM62 307h1v3h-1zM63 304h1v3h-1zM64 301h1v3h-1zM65 298h1v3h-1zM66 295h1v3h-1zM67 292h1v3h-1zM68 290h1v2h-1zM69 288h1v2h-1zM70 286h1v2h-1zM71 284h1v2h-1zM72 282h1v2h-1zM73 280h1v2h-1zM74 278h1v2h-1zM75 277h1v1h-1zM76 278h1v1h-1zM77 279h1v1h-1zM80 281h1v1h-1zM81 282h1v1h-1zM82 283h1v2h-1zM83 285h1v4h-1zM84 289h1v4h-1zM85 293h1v3h-1zM86 296h1v4h-1zM87 300h1v3h-1zM88 303h1v4h-1zM89 307h1v4h-1zM90 311h1v3h-1zM91 314h1v3h-1zM92 317h1v2h-1zM93 319h1v3h-1zM94 322h1v3h-1zM95 325h1v3h-1zM96 328h1v2h-1zM97 330h1v3h-1zM98 333h1v2h-1zM99 335h1v2h-1zM100 337h1v2h-1zM101 339h1v2h-1zM102 341h1v2h-1zM103 343h1v1h-1zM104 344h1v2h-1zM105 346h1v2h-1zM106 348h1v2h-1zM107 350h1v2h-1zM108 352h1v2h-1zM109 354h1v3h-1zM110 357h1v3h-1zM111 360h1v3h-1zM112 363h1v2h-1zM113 365h1v3h-1zM114 368h1v3h-1zM115 371h1v3h-1zM116 374h1v3h-1zM117 377h1v3h-1zM118 380h1v3h-1zM119 383h1v2h-1zM120 385h1v3h-1zM121 388h1v3h-1zM122 391h1v3h-1zM123 394h1v2h-1zM128 398h1v1h-1zM140 398h1v2h-1zM141 400h1v2h-1zM142 402h1v2h-1zM143 404h1v2h-1zM144 406h1v1h-1zM145 407h1v2h-1zM146 409h1v1h-1zM147 410h1v1h-1zM148 411h1v2h-1zM149 413h1v1h-1zM150 414h1v1h-1zM151 415h1v1h-1zM152 416h1v2h-1zM153 418h1v1h-1zM154 419h1v1h-1zM155 420h1v1h-1zM156 421h1v1h-1zM157 422h1v2h-1zM158 424h1v1h-1zM159 425h1v1h-1zM160 426h1v1h-1zM161 427h1v1h-1zM162 428h1v2h-1zM163 430h1v1h-1zM164 431h1v1h-1zM165 432h1v1h-1zM166 433h1v1h-1zM167 434h1v2h-1zM168 436h1v1h-1zM169 437h1v1h-1zM170 438h1v1h-1zM171 439h1v1h-1zM172 440h1v1h-1zM173 441h1v2h-1zM174 443h1v1h-1zM175 444h1v1h-1zM176 445h1v1h-1zM177 446h1v1h-1zM178 447h1v1h-1zM179 448h1v2h-1zM180 450h1v2h-1zM181 452h1v2h-1zM182 454h1v2h-1zM183 456h1v2h-1zM184 458h1v2h-1zM185 460h1v3h-1zM186 463h1v2h-1zM187 466h1v1h-1zM189 464h1v1h-1zM190 463h1v1h-1zM191 461h1v2h-1zM192 460h1v1h-1zM193 459h1v1h-1zM194 458h1v1h-1zM195 457h1v1h-1zM196 456h1v1h-1zM197 455h1v1h-1zM198 454h1v1h-1zM199 453h1v1h-1zM200 452h1v1h-1zM201 451h1v1h-1zM202 450h1v1h-1zM219 453h1v1h-1zM220 450h1v2h-1zM221 448h1v2h-1zM222 446h1v2h-1zM223 443h1v3h-1zM224 441h1v2h-1zM225 439h1v2h-1zM226 437h1v2h-1zM227 435h1v2h-1zM228 433h1v2h-1zM229 432h1v1h-1zM230 430h1v2h-1zM231 429h1v1h-1zM232 427h1v2h-1zM233 426h1v1h-1zM234 424h1v2h-1zM292 427h1v2h-1zM293 426h1v1h-1zM294 424h1v2h-1zM295 423h1v1h-1zM296 421h1v2h-1zM297 420h1v1h-1zM298 418h1v2h-1zM299 417h1v1h-1zM304 420h1v1h-1zM332 424h1v1h-1zM333 423h1v1h-1zM336 421h1v1h-1zM337 420h1v1h-1zM338 419h1v1h-1zM339 418h1v1h-1zM340 416h1v2h-1zM341 415h1v1h-1zM342 414h1v1h-1zM343 413h1v1h-1zM344 412h1v1h-1zM345 410h1v2h-1zM346 409h1v1h-1zM347 408h1v1h-1zM348 409h1v2h-1zM349 411h1v1h-1zM350 412h1v1h-1zM351 413h1v2h-1zM352 415h1v1h-1zM353 416h1v1h-1zM354 417h1v2h-1zM355 419h1v1h-1zM356 420h1v1h-1zM357 421h1v1h-1zM360 423h1v1h-1zM361 424h1v1h-1zM362 425h1v1h-1zM363 426h1v2h-1zM364 428h1v4h-1zM365 432h1v4h-1zM366 436h1v4h-1zM367 440h1v4h-1zM368 444h1v3h-1zM369 447h1v4h-1zM370 451h1v3h-1zM371 454h1v4h-1zM372 458h1v3h-1zM373 461h1v4h-1zM374 465h1v3h-1zM375 468h1v3h-1zM376 471h1v3h-1zM377 474h1v3h-1zM378 477h1v4h-1zM379 481h1v3h-1zM380 484h1v3h-1zM381 487h1v3h-1zM382 490h1v3h-1zM383 493h1v3h-1zM384 496h1v3h-1zM385 499h1v3h-1zM386 502h1v2h-1zM387 504h1v3h-1zM388 507h1v3h-1zM389 510h1v3h-1zM390 513h1v2h-1zM391 515h1v2h-1zM392 517h1v2h-1zM393 519h1v2h-1zM394 521h1v2h-1zM395 523h1v2h-1zM396 525h1v1h-1zM397 526h1v1h-1zM398 527h1v1h-1zM399 528h1v2h-1zM400 530h1v1h-1zM401 531h1v1h-1zM402 532h1v1h-1zM403 533h1v1h-1zM406 535h1v1h-1zM409 537h1v1h-1zM460 550h1v1h-1zM461 548h1v2h-1zM462 547h1v1h-1zM463 546h1v1h-1zM464 544h1v2h-1zM465 543h1v1h-1zM466 542h1v1h-1zM467 541h1v1h-1zM468 539h1v2h-1zM469 538h1v1h-1zM470 537h1v1h-1zM471 536h1v1h-1zM472 535h1v1h-1zM473 533h1v2h-1zM474 532h1v1h-1zM475 531h1v1h-1zM524 528h1v1h-1zM525 526h1v2h-1zM526 525h1v1h-1zM527 524h1v1h-1zM528 523h1v1h-1zM529 521h1v2h-1zM530 520h1v1h-1zM531 519h1v1h-1zM532 517h1v2h-1zM533 516h1v1h-1zM534 515h1v1h-1zM535 513h1v2h-1zM536 512h1v1h-1zM537 511h1v1h-1zM538 509h1v2h-1zM539 508h1v1h-1zM540 506h1v2h-1zM541 504h1v2h-1zM542 502h1v2h-1zM543 500h1v2h-1zM544 498h1v2h-1zM545 496h1v2h-1zM546 494h1v2h-1zM547 491h1v3h-1zM548 489h1v2h-1zM549 487h1v2h-1zM550 485h1v2h-1zM551 483h1v2h-1zM552 481h1v2h-1zM553 479h1v2h-1zM554 477h1v2h-1zM555 475h1v2h-1zM556 474h1v1h-1zM557 472h1v2h-1zM558 471h1v1h-1zM559 470h1v1h-1zM560 468h1v2h-1zM561 467h1v1h-1zM562 466h1v1h-1zM565 464h1v1h-1zM568 462h1v1h-1zM569 461h1v1h-1zM572 459h1v1h-1zM577 456h1v1h-1zM582 453h1v1h-1zM612 449h1v1h-1zM613 448h1v1h-1zM614 447h1v1h-1zM615 446h1v1h-1zM616 445h1v1h-1zM617 444h1v1h-1zM618 443h1v1h-1zM684 442h1v1h-1zM685 440h1v2h-1zM686 439h1v1h-1zM687 438h1v1h-1zM688 436h1v2h-1zM689 435h1v1h-1zM690 434h1v1h-1zM691 433h1v1h-1zM692 432h1v1h-1zM693 431h1v1h-1zM694 429h1v2h-1zM695 428h1v1h-1zM696 427h1v1h-1zM697 426h1v1h-1zM698 425h1v1h-1zM708 421h1v1h-1zM709 420h1v1h-1zM710 419h1v1h-1zM711 418h1v1h-1zM712 417h1v1h-1zM713 416h1v1h-1zM714 415h1v1h-1zM734 413h1v1h-1zM735 412h1v1h-1zM738 410h1v1h-1zM755 411h1v1h-1zM758 413h1v1h-1zM759 414h1v1h-1zM760 415h1v2h-1zM761 417h1v2h-1zM762 419h1v2h-1zM763 421h1v2h-1zM764 423h1v2h-1zM765 425h1v2h-1zM766 427h1v3h-1zM767 430h1v3h-1zM768 433h1v3h-1zM769 436h1v2h-1zM770 438h1v3h-1zM771 441h1v2h-1zM772 443h1v2h-1zM773 445h1v2h-1zM774 447h1v2h-1zM775 449h1v2h-1zM776 451h1v2h-1zM777 453h1v2h-1zM778 455h1v2h-1zM779 457h1v1h-1zM780 458h1v2h-1zM781 460h1v2h-1zM782 462h1v1h-1zM783 463h1v2h-1zM784 465h1v1h-1zM785 466h1v2h-1zM786 468h1v2h-1zM808 480h1v1h-1zM811 482h1v1h-1zM814 484h1v1h-1zM815 485h1v1h-1zM818 487h1v1h-1zM860 493h1v1h-1zM861 494h1v2h-1zM862 496h1v3h-1zM863 499h1v2h-1zM864 501h1v2h-1zM865 503h1v3h-1zM866 506h1v2h-1zM867 508h1v2h-1zM868 510h1v2h-1zM869 512h1v2h-1zM870 514h1v2h-1zM871 516h1v2h-1zM872 518h1v2h-1zM873 520h1v2h-1zM874 522h1v2h-1zM875 524h1v1h-1zM876 525h1v2h-1zM877 527h1v2h-1zM878 529h1v2h-1zM879 531h1v1h-1zM880 532h1v2h-1zM881 534h1v2h-1zM882 536h1v2h-1zM883 538h1v1h-1zM892 543h1v1h-1zM899 547h1v1h-1zM900 548h1v1h-1zM901 549h1v1h-1zM904 551h1v1h-1zM905 552h1v1h-1zM906 553h1v1h-1zM907 554h1v1h-1zM912 557h1v1h-1zM1006 560h1v1h-1zM1007 561h1v1h-1zM1010 563h1v1h-1zM1011 564h1v1h-1zM1014 566h1v1h-1zM1015 567h1v1h-1zM1016 568h1v1h-1zM1019 570h1v1h-1zM1020 571h1v1h-1zM1038 575h1v1h-1zM1039 574h1v1h-1zM1042 572h1v1h-1zM1043 571h1v1h-1zM1053 568h1v1h-1zM1054 567h1v1h-1zM1055 566h1v1h-1zM1056 565h1v1h-1zM1057 564h1v1h-1zM1058 563h1v1h-1zM1059 561h1v2h-1zM1060 559h1v2h-1zM1061 557h1v2h-1zM1062 554h1v3h-1zM1063 552h1v2h-1zM1064 549h1v3h-1zM1065 547h1v2h-1zM1066 545h1v2h-1zM1067 542h1v3h-1zM1068 540h1v2h-1zM1069 537h1v3h-1zM1070 535h1v2h-1zM1071 533h1v2h-1zM1072 530h1v3h-1zM1073 528h1v2h-1zM1074 526h1v2h-1zM1075 524h1v2h-1zM1076 522h1v2h-1zM1077 521h1v1h-1zM1078 519h1v2h-1zM1079 517h1v2h-1zM1080 515h1v2h-1zM1081 514h1v1h-1zM1082 512h1v2h-1zM1083 510h1v2h-1zM1084 509h1v1h-1zM1085 507h1v2h-1zM1086 505h1v2h-1zM1087 503h1v2h-1zM1088 502h1v1h-1zM1089 500h1v2h-1zM1090 498h1v2h-1zM1091 497h1v1h-1zM1092 496h1v1h-1zM1093 495h1v1h-1zM1094 494h1v1h-1zM1095 493h1v1h-1zM1096 492h1v1h-1zM1097 491h1v1h-1zM1098 490h1v1h-1zM1099 489h1v1h-1zM1100 488h1v1h-1zM1107 484h1v1h-1zM1114 480h1v1h-1zM1115 479h1v1h-1zM1116 478h1v1h-1zM1117 477h1v1h-1zM1118 475h1v2h-1zM1119 474h1v1h-1zM1120 473h1v1h-1zM1121 472h1v1h-1zM1122 471h1v1h-1zM1123 470h1v1h-1zM1124 468h1v2h-1zM1125 466h1v2h-1zM1126 464h1v2h-1zM1127 463h1v1h-1zM1128 461h1v2h-1zM1129 459h1v2h-1zM1130 457h1v2h-1zM1131 456h1v1h-1zM1132 454h1v2h-1zM1133 452h1v2h-1zM1134 450h1v2h-1zM1135 448h1v2h-1zM1136 446h1v2h-1zM1137 444h1v2h-1zM1138 443h1v1h-1zM1139 441h1v2h-1zM1140 440h1v1h-1zM1141 438h1v2h-1zM1142 437h1v1h-1zM1143 435h1v2h-1zM1144 434h1v1h-1zM1145 432h1v2h-1zM1146 431h1v1h-1zM1147 429h1v2h-1zM1148 427h1v2h-1zM1149 425h1v2h-1zM1150 423h1v2h-1zM1151 421h1v2h-1zM1152 419h1v2h-1zM1153 417h1v2h-1zM1154 415h1v2h-1zM1155 414h1v1h-1zM1156 412h1v2h-1zM1157 410h1v2h-1zM1158 408h1v2h-1zM1159 407h1v1h-1zM1160 405h1v2h-1zM1161 403h1v2h-1zM1162 401h1v2h-1zM1187 411h1v1h-1zM1209 422h1v1h-1zM1230 427h1v1h-1zM1231 428h1v1h-1zM1232 429h1v1h-1zM1233 430h1v1h-1zM1234 431h1v1h-1zM1235 432h1v1h-1zM1236 433h1v1h-1zM1239 435h1v1h-1zM1240 436h1v1h-1zM1243 438h1v1h-1zM1297 441h1v1h-1zM1312 448h1v1h-1zM1315 450h1v1h-1zM1316 451h1v1h-1zM1319 453h1v1h-1zM1320 454h1v1h-1zM1360 464h1v1h-1zM1361 465h1v1h-1zM1364 467h1v1h-1zM1367 469h1v1h-1zM1368 470h1v1h-1zM1419 474h1v1h-1zM1422 476h1v1h-1zM1423 477h1v1h-1zM1424 478h1v1h-1zM1425 479h1v1h-1zM1426 480h1v1h-1zM1427 481h1v1h-1z" fill="#3cb371"/>
<rect x="0" y="425" width="1653" height="1" fill="#ff0000"/>
<rect x="0" y="444" width="1653" height="1" fill="#ff0000"/>
<rect x="0" y="459" width="1653" height="1" fill="#32cd32"/>
<rect x="0" y="470" width="1653" height="1" fill="#c0c0c0"/>
<rect x="0" y="490" width="1653" height="1" fill="#0000ff"/>
<rect x="0" y="505" width="1653" height="1" fill="#0000ff"/>
<rect x="1092" y="286" width="10" height="1" fill="#ff0000"/>
<rect x="1370" y="308" width="10" height="1" fill="#ff0000"/>
<rect x="1258" y="478" width="10" height="1" fill="#ff0000"/>
<rect x="378" y="563" width="10" height="1" fill="#ff0000"/>
<rect x="898" y="565" width="10" height="1" fill="#ff0000"/>
<rect x="1076" y="459" width="10" height="1" fill="#ff0000"/>
<rect x="1102" y="277" width="61" height="19" fill="#fff"/>
<path d="M1102 277h61v19h-61zM1103 278v17h59v-17z" fill="#ff0000" fill-rule="evenodd"/>
<text x="1103.1" y="293" font-size="16.7" text-rendering="geometricPrecision" font-family="Liberation Sans, sans-serif" fill="#ff0000" textLength="59.5" lengthAdjust="spacingAndGlyphs">29392.4</text>
<rect x="1308" y="299" width="62" height="19" fill="#fff"/>
<path d="M1308 299h62v19h-62zM1309 300v17h60v-17z" fill="#ff0000" fill-rule="evenodd"/>
<text x="1309.9" y="315" font-size="16.7" text-rendering="geometricPrecision" font-family="Liberation Sans, sans-serif" fill="#ff0000" textLength="59.8" lengthAdjust="spacingAndGlyphs">29244.1</text>
<rect x="1196" y="469" width="62" height="19" fill="#fff"/>
<path d="M1196 469h62v19h-62zM1197 470v17h60v-17z" fill="#ff0000" fill-rule="evenodd"/>
<text x="1198" y="485" font-size="16.7" text-rendering="geometricPrecision" font-family="Liberation Sans, sans-serif" fill="#ff0000" textLength="59.8" lengthAdjust="spacingAndGlyphs">28086.0</text>
<rect x="316" y="554" width="62" height="19" fill="#fff"/>
<path d="M316 554h62v19h-62zM317 555v17h60v-17z" fill="#ff0000" fill-rule="evenodd"/>
<text x="318.2" y="570" font-size="16.7" text-rendering="geometricPrecision" font-family="Liberation Sans, sans-serif" fill="#ff0000" textLength="59.8" lengthAdjust="spacingAndGlyphs">27499.9</text>
<rect x="836" y="556" width="62" height="19" fill="#fff"/>
<path d="M836 556h62v19h-62zM837 557v17h60v-17z" fill="#ff0000" fill-rule="evenodd"/>
<text x="838.2" y="572" font-size="16.7" text-rendering="geometricPrecision" font-family="Liberation Sans, sans-serif" fill="#ff0000" textLength="59.8" lengthAdjust="spacingAndGlyphs">27485.8</text>
<rect x="1086" y="447" width="74" height="25" fill="#fff"/>
<path d="M1086 447h74v25h-74zM1087 448v23h72v-23z" fill="#ff0000" fill-rule="evenodd"/>
<text x="1086.8" y="468" font-size="23.1" text-rendering="geometricPrecision" font-family="Liberation Sans, sans-serif" fill="#ff0000" textLength="73" lengthAdjust="spacingAndGlyphs" stroke="#ff0000" stroke-width="0.4">28215.0</text>
<path d="M1083 457h3v4h-3zM1084 458v2h1v-2z" fill="#ff0000" fill-rule="evenodd"/><rect x="1084" y="458" width="1" height="2" fill="#fff"/>
<path d="M3 136h1v60h-1zM1 142h5v19h-5zM11 107h1v53h-1zM9 122h5v38h-5zM19 60h1v55h-1zM17 60h5v40h-5zM27 60h1v131h-1zM25 60h5v129h-5zM35 60h1v129h-1zM33 60h5v120h-5zM43 60h1v57h-1zM41 60h5v54h-5zM51 60h1v177h-1zM49 125h5v82h-5zM59 226h1v51h-1zM57 226h5v32h-5zM67 157h1v80h-1zM65 168h5v24h-5zM75 152h1v66h-1zM73 166h5v39h-5zM83 277h1v59h-1zM81 297h5v16h-5zM91 310h1v63h-1zM89 320h5v32h-5zM99 290h1v46h-1zM97 304h5v14h-5zM107 298h1v24h-1zM105 307h5v11h-5zM115 258h1v96h-1zM113 269h5v71h-5zM123 336h1v41h-1zM121 342h5v14h-5zM131 267h1v77h-1zM129 277h5v56h-5zM139 229h1v53h-1zM137 245h5v32h-5zM147 282h1v77h-1zM145 297h5v60h-5zM155 306h1v47h-1zM153 333h5v14h-5zM163 340h1v97h-1zM161 343h5v64h-5zM171 304h1v62h-1zM169 346h5v15h-5zM179 295h1v130h-1zM177 298h5v105h-5zM187 370h1v74h-1zM185 404h5v19h-5zM195 348h1v102h-1zM193 364h5v37h-5zM203 353h1v77h-1zM201 360h5v19h-5zM211 322h1v75h-1zM209 334h5v38h-5zM219 363h1v35h-1zM217 368h5v7h-5zM227 286h1v91h-1zM225 294h5v83h-5zM235 291h1v48h-1zM233 294h5v11h-5zM243 262h1v65h-1zM241 266h5v40h-5zM251 293h1v104h-1zM249 304h5v85h-5zM259 326h1v66h-1zM257 363h5v4h-5zM267 352h1v52h-1zM265 362h5v8h-5zM275 328h1v41h-1zM273 339h5v9h-5zM283 339h1v30h-1zM281 345h5v7h-5zM291 323h1v61h-1zM289 338h5v11h-5zM299 339h1v27h-1zM297 346h5v4h-5zM307 260h1v47h-1zM305 279h5v26h-5zM315 263h1v38h-1zM313 278h5v14h-5zM323 309h1v56h-1zM321 326h5v32h-5zM331 347h1v42h-1zM329 350h5v5h-5zM339 328h1v59h-1zM337 354h5v4h-5zM347 346h1v29h-1zM345 356h5v11h-5zM355 341h1v97h-1zM353 341h5v82h-5zM363 418h1v28h-1zM361 421h5v6h-5zM371 426h1v80h-1zM369 438h5v63h-5zM379 496h1v29h-1zM377 502h5v8h-5zM387 496h1v68h-1zM385 509h5v27h-5zM395 494h1v26h-1zM393 510h5v3h-5zM403 460h1v47h-1zM401 471h5v35h-5zM411 441h1v31h-1zM409 454h5v18h-5zM419 425h1v59h-1zM417 436h5v20h-5zM427 436h1v43h-1zM425 436h5v7h-5zM435 394h1v48h-1zM433 396h5v34h-5zM443 390h1v32h-1zM441 396h5v20h-5zM451 379h1v63h-1zM449 385h5v43h-5zM459 420h1v31h-1zM457 429h5v17h-5zM467 390h1v35h-1zM465 396h5v15h-5zM475 358h1v52h-1zM473 371h5v26h-5zM483 323h1v78h-1zM481 325h5v64h-5zM491 379h1v37h-1zM489 388h5v25h-5zM499 355h1v83h-1zM497 360h5v73h-5zM507 337h1v33h-1zM505 341h5v19h-5zM515 328h1v62h-1zM513 333h5v50h-5zM523 377h1v35h-1zM521 381h5v18h-5zM531 375h1v84h-1zM529 410h5v28h-5zM539 422h1v23h-1zM537 431h5v9h-5zM547 368h1v54h-1zM545 389h5v28h-5zM555 391h1v41h-1zM553 391h5v25h-5zM563 349h1v51h-1zM561 369h5v29h-5zM571 356h1v19h-1zM569 358h5v9h-5zM579 361h1v61h-1zM577 367h5v39h-5zM587 371h1v37h-1zM585 377h5v30h-5zM595 361h1v33h-1zM593 370h5v8h-5zM603 335h1v43h-1zM601 348h5v29h-5zM611 298h1v84h-1zM609 315h5v38h-5zM619 311h1v34h-1zM617 314h5v30h-5zM627 325h1v45h-1zM625 332h5v29h-5zM635 314h1v22h-1zM633 331h5v4h-5zM643 381h1v44h-1zM641 385h5v18h-5zM651 397h1v18h-1zM649 402h5v13h-5zM659 374h1v38h-1zM657 384h5v5h-5zM667 377h1v19h-1zM665 383h5v3h-5zM675 335h1v53h-1zM673 346h5v42h-5zM683 331h1v31h-1zM681 337h5v9h-5zM691 308h1v40h-1zM689 330h5v2h-5zM699 326h1v33h-1zM697 332h5v22h-5zM707 342h1v32h-1zM705 358h5v8h-5zM715 337h1v30h-1zM713 354h5v8h-5zM723 360h1v31h-1zM721 374h5v2h-5zM731 364h1v14h-1zM729 367h5v7h-5zM739 308h1v35h-1zM737 333h5v10h-5zM747 320h1v26h-1zM745 329h5v6h-5zM755 344h1v56h-1zM753 346h5v49h-5zM763 391h1v34h-1zM761 395h5v20h-5zM771 409h1v75h-1zM769 414h5v63h-5zM779 464h1v19h-1zM777 472h5v7h-5zM787 444h1v30h-1zM785 450h5v4h-5zM795 424h1v31h-1zM793 426h5v29h-5zM803 410h1v54h-1zM801 429h5v29h-5zM811 430h1v37h-1zM809 430h5v18h-5zM819 389h1v71h-1zM817 432h5v13h-5zM827 414h1v34h-1zM825 414h5v32h-5zM835 381h1v33h-1zM833 394h5v15h-5zM843 393h1v36h-1zM841 393h5v23h-5zM851 382h1v60h-1zM849 391h5v44h-5zM859 418h1v23h-1zM857 423h5v12h-5zM867 468h1v61h-1zM865 476h5v43h-5zM875 488h1v40h-1zM873 519h5v3h-5zM883 495h1v39h-1zM881 520h5v12h-5zM891 480h1v50h-1zM889 489h5v41h-5zM899 503h1v40h-1zM897 518h5v15h-5zM907 519h1v48h-1zM905 520h5v42h-5zM915 512h1v43h-1zM913 517h5v6h-5zM923 500h1v24h-1zM921 505h5v12h-5zM931 471h1v33h-1zM929 482h5v12h-5zM939 472h1v21h-1zM937 478h5v13h-5zM947 414h1v42h-1zM945 425h5v29h-5zM955 418h1v14h-1zM953 424h5v2h-5zM963 433h1v36h-1zM961 448h5v4h-5zM971 437h1v22h-1zM969 449h5v2h-5zM979 414h1v52h-1zM977 419h5v35h-5zM987 437h1v16h-1zM985 443h5v8h-5zM995 440h1v40h-1zM993 447h5v8h-5zM1003 439h1v21h-1zM1001 444h5v11h-5zM1011 380h1v56h-1zM1009 384h5v45h-5zM1019 359h1v27h-1zM1017 360h5v24h-5zM1027 323h1v31h-1zM1025 332h5v15h-5zM1035 305h1v34h-1zM1033 322h5v11h-5zM1043 337h1v31h-1zM1041 340h5v7h-5zM1051 332h1v21h-1zM1049 334h5v13h-5zM1059 310h1v36h-1zM1057 317h5v15h-5zM1067 308h1v45h-1zM1065 317h5v30h-5zM1075 321h1v52h-1zM1073 321h5v43h-5zM1083 341h1v35h-1zM1081 350h5v14h-5zM1091 312h1v45h-1zM1089 320h5v36h-5zM1099 286h1v39h-1zM1097 294h5v25h-5zM1107 287h1v39h-1zM1105 299h5v19h-5zM1115 311h1v23h-1zM1113 316h5v10h-5zM1123 304h1v37h-1zM1121 315h5v23h-5zM1131 333h1v42h-1zM1129 336h5v31h-5zM1139 354h1v45h-1zM1137 357h5v19h-5zM1147 360h1v27h-1zM1145 361h5v13h-5zM1155 354h1v60h-1zM1153 363h5v38h-5zM1163 381h1v19h-1zM1161 381h5v19h-5zM1171 356h1v54h-1zM1169 380h5v21h-5zM1179 385h1v23h-1zM1177 391h5v10h-5zM1187 373h1v26h-1zM1185 383h5v9h-5zM1195 387h1v14h-1zM1193 387h5v6h-5zM1203 360h1v36h-1zM1201 378h5v17h-5zM1211 374h1v33h-1zM1209 378h5v25h-5zM1219 357h1v38h-1zM1217 375h5v10h-5zM1227 365h1v16h-1zM1225 374h5v3h-5zM1235 356h1v84h-1zM1233 356h5v59h-5zM1243 402h1v25h-1zM1241 415h5v4h-5zM1251 407h1v21h-1zM1249 414h5v6h-5zM1259 416h1v24h-1zM1257 421h5v17h-5zM1267 425h1v54h-1zM1265 430h5v49h-5zM1275 423h1v23h-1zM1273 427h5v4h-5zM1283 381h1v49h-1zM1281 395h5v24h-5zM1291 378h1v25h-1zM1289 381h5v17h-5zM1299 416h1v33h-1zM1297 421h5v20h-5zM1307 423h1v33h-1zM1305 429h5v11h-5zM1315 413h1v37h-1zM1313 415h5v20h-5zM1323 430h1v38h-1zM1321 432h5v30h-5zM1331 388h1v56h-1zM1329 394h5v46h-5zM1339 366h1v34h-1zM1337 384h5v12h-5zM1347 353h1v38h-1zM1345 374h5v15h-5zM1355 364h1v15h-1zM1353 369h5v7h-5zM1363 330h1v45h-1zM1361 333h5v38h-5zM1371 320h1v18h-1zM1369 326h5v9h-5zM1379 308h1v30h-1zM1377 324h5v6h-5zM1387 321h1v41h-1zM1385 322h5v36h-5zM1395 351h1v27h-1zM1393 351h5v16h-5zM1403 341h1v38h-1zM1401 355h5v14h-5zM1411 363h1v37h-1zM1409 367h5v33h-5zM1419 379h1v90h-1zM1417 392h5v67h-5zM1427 453h1v25h-1zM1425 462h5v9h-5z" fill="#000"/>
<path d="M10 123h3v36h-3zM34 61h3v118h-3zM66 169h3v22h-3zM106 308h3v9h-3zM130 278h3v54h-3zM138 246h3v30h-3zM154 334h3v12h-3zM162 344h3v62h-3zM194 365h3v35h-3zM226 295h3v81h-3zM258 364h3v2h-3zM298 347h3v2h-3zM306 280h3v24h-3zM362 422h3v4h-3zM386 510h3v25h-3zM402 472h3v33h-3zM410 455h3v16h-3zM418 437h3v18h-3zM434 397h3v32h-3zM466 397h3v13h-3zM474 372h3v24h-3zM498 361h3v71h-3zM506 342h3v17h-3zM538 432h3v7h-3zM546 390h3v26h-3zM562 370h3v27h-3zM570 359h3v7h-3zM586 378h3v28h-3zM602 349h3v27h-3zM610 316h3v36h-3zM626 333h3v27h-3zM658 385h3v3h-3zM666 384h3v1h-3zM674 347h3v40h-3zM682 338h3v7h-3zM706 359h3v6h-3zM730 368h3v5h-3zM738 334h3v8h-3zM746 330h3v4h-3zM778 473h3v5h-3zM794 427h3v27h-3zM802 430h3v27h-3zM826 415h3v30h-3zM834 395h3v13h-3zM858 424h3v10h-3zM874 520h3v1h-3zM890 490h3v39h-3zM898 519h3v13h-3zM914 518h3v4h-3zM922 506h3v10h-3zM938 479h3v11h-3zM946 426h3v27h-3zM986 444h3v6h-3zM1002 445h3v9h-3zM1010 385h3v43h-3zM1018 361h3v22h-3zM1026 333h3v13h-3zM1034 323h3v9h-3zM1050 335h3v11h-3zM1058 318h3v13h-3zM1082 351h3v12h-3zM1090 321h3v34h-3zM1098 295h3v23h-3zM1138 358h3v17h-3zM1162 382h3v17h-3zM1178 392h3v8h-3zM1194 388h3v4h-3zM1202 379h3v15h-3zM1218 376h3v8h-3zM1226 375h3v1h-3zM1266 431h3v47h-3zM1274 428h3v2h-3zM1282 396h3v22h-3zM1290 382h3v15h-3zM1306 430h3v9h-3zM1330 395h3v44h-3zM1338 385h3v10h-3zM1346 375h3v13h-3zM1354 370h3v5h-3zM1362 334h3v36h-3zM1370 327h3v7h-3zM1378 325h3v4h-3z" fill="#fff"/>
<rect x="1322" y="456" width="160" height="7" fill="#00ff00"/>
<rect x="1648.5" y="423.5" width="4" height="4" fill="#fff" stroke="#ff0000" stroke-width="1"/>
<rect x="1648.5" y="442.5" width="4" height="4" fill="#fff" stroke="#ff0000" stroke-width="1"/>
<rect x="1648.5" y="488.5" width="4" height="4" fill="#fff" stroke="#0000ff" stroke-width="1"/>
<rect x="1648.5" y="503.5" width="4" height="4" fill="#fff" stroke="#0000ff" stroke-width="1"/>
<path d="M3 598h1v83h-1zM11 600h1v81h-1zM19 600h1v81h-1zM27 610h1v71h-1zM35 609h1v72h-1zM43 611h1v70h-1zM51 624h1v57h-1zM59 640h1v41h-1zM67 643h1v38h-1zM75 650h1v31h-1zM83 667h1v14h-1zM91 680h1v4h-1zM99 680h1v15h-1zM107 680h1v22h-1zM115 680h1v30h-1zM123 680h1v38h-1zM131 680h1v36h-1zM139 680h1v30h-1zM147 680h1v37h-1zM155 680h1v40h-1zM163 680h1v42h-1zM171 680h1v46h-1zM179 680h1v53h-1zM187 680h1v59h-1zM195 680h1v58h-1zM203 680h1v57h-1zM211 680h1v56h-1zM219 680h1v52h-1zM227 680h1v43h-1zM235 680h1v36h-1zM243 680h1v29h-1zM251 680h1v33h-1zM259 680h1v33h-1zM267 680h1v33h-1zM275 680h1v30h-1zM283 680h1v28h-1zM291 680h1v26h-1zM299 680h1v24h-1zM307 680h1v15h-1zM315 680h1v8h-1zM323 680h1v11h-1zM331 680h1v12h-1zM339 680h1v13h-1zM347 680h1v15h-1zM355 680h1v22h-1zM363 680h1v27h-1zM371 680h1v40h-1zM379 680h1v50h-1zM387 680h1v57h-1zM395 680h1v63h-1zM403 680h1v62h-1zM411 680h1v59h-1zM419 680h1v54h-1zM427 680h1v49h-1zM435 680h1v41h-1zM443 680h1v36h-1zM451 680h1v33h-1zM459 680h1v32h-1zM467 680h1v25h-1zM475 680h1v17h-1zM483 680h1v13h-1zM491 680h1v12h-1zM499 680h1v5h-1zM507 679h1v2h-1zM515 677h1v4h-1zM523 678h1v3h-1zM531 680h1v2h-1zM539 680h1v4h-1zM547 680h1v3h-1zM555 680h1v3h-1zM563 680h1v2h-1zM571 676h1v5h-1zM579 679h1v2h-1zM587 676h1v5h-1zM595 675h1v6h-1zM603 671h1v10h-1zM611 664h1v17h-1zM619 662h1v19h-1zM627 660h1v21h-1zM635 658h1v23h-1zM643 665h1v16h-1zM651 671h1v10h-1zM659 673h1v8h-1zM667 675h1v6h-1zM675 672h1v9h-1zM683 669h1v12h-1zM691 666h1v15h-1zM699 666h1v15h-1zM707 667h1v14h-1zM715 669h1v12h-1zM723 671h1v10h-1zM731 672h1v9h-1zM739 670h1v11h-1zM747 668h1v13h-1zM755 673h1v8h-1zM763 679h1v2h-1zM771 680h1v10h-1zM779 680h1v19h-1zM787 680h1v23h-1zM795 680h1v24h-1zM803 680h1v24h-1zM811 680h1v26h-1zM819 680h1v27h-1zM827 680h1v24h-1zM835 680h1v19h-1zM843 680h1v18h-1zM851 680h1v18h-1zM859 680h1v17h-1zM867 680h1v27h-1zM875 680h1v33h-1zM883 680h1v40h-1zM891 680h1v40h-1zM899 680h1v43h-1zM907 680h1v49h-1zM915 680h1v49h-1zM923 680h1v47h-1zM931 680h1v43h-1zM939 680h1v38h-1zM947 680h1v28h-1zM955 680h1v20h-1zM963 680h1v16h-1zM971 680h1v13h-1zM979 680h1v11h-1zM987 680h1v8h-1zM995 680h1v6h-1zM1003 680h1v4h-1zM1011 677h1v4h-1zM1019 668h1v13h-1zM1027 658h1v23h-1zM1035 650h1v31h-1zM1043 646h1v35h-1zM1051 642h1v39h-1zM1059 637h1v44h-1zM1067 638h1v43h-1zM1075 640h1v41h-1zM1083 641h1v40h-1zM1091 639h1v42h-1zM1099 635h1v46h-1zM1107 635h1v46h-1zM1115 636h1v45h-1zM1123 639h1v42h-1zM1131 645h1v36h-1zM1139 649h1v32h-1zM1147 654h1v27h-1zM1155 662h1v19h-1zM1163 666h1v15h-1zM1171 671h1v10h-1zM1179 674h1v7h-1zM1187 677h1v4h-1zM1195 678h1v3h-1zM1203 679h1v2h-1zM1235 680h1v3h-1zM1243 680h1v7h-1zM1251 680h1v9h-1zM1259 680h1v13h-1zM1267 680h1v15h-1zM1275 680h1v17h-1zM1283 680h1v14h-1zM1291 680h1v10h-1zM1299 680h1v12h-1zM1307 680h1v15h-1zM1315 680h1v16h-1zM1323 680h1v20h-1zM1331 680h1v16h-1zM1339 680h1v10h-1zM1347 680h1v6h-1zM1363 675h1v6h-1zM1371 668h1v13h-1zM1379 663h1v18h-1zM1387 663h1v18h-1zM1395 664h1v17h-1zM1403 665h1v16h-1zM1411 670h1v11h-1zM1427 680h1v8h-1z" fill="#c0c0c0"/>
<path d="M25 597h3v1h-3zM31 597h3v1h-3zM37 597h3v1h-3zM19 598h3v1h-3zM44 598h2v1h-2zM13 600h2v1h-2zM7 603h2v1h-2zM2 606h2v1h-2zM67 615h2v1h-2zM73 618h2v1h-2zM1115 637h3v1h-3zM1121 637h3v1h-3zM1109 638h3v1h-3zM1127 638h3v1h-3zM1133 638h3v1h-3zM1103 639h2v1h-2zM1139 639h3v1h-3zM1098 640h2v1h-2zM1145 640h3v1h-3zM1091 642h3v1h-3zM1152 642h2v1h-2zM1086 644h2v1h-2zM1158 644h2v1h-2zM1163 646h2v1h-2zM1079 647h2v1h-2zM1170 649h2v1h-2zM1176 652h2v1h-2zM1068 654h2v1h-2zM1182 656h2v1h-2zM1062 658h2v1h-2zM1187 659h2v1h-2zM1193 662h2v1h-2zM1199 665h2v1h-2zM647 666h3v1h-3zM653 666h3v1h-3zM659 666h3v1h-3zM665 666h3v1h-3zM671 666h3v1h-3zM677 666h3v1h-3zM683 666h3v1h-3zM689 666h3v1h-3zM1050 666h2v1h-2zM641 667h3v1h-3zM695 667h3v1h-3zM701 667h2v1h-2zM707 668h3v1h-3zM737 668h3v1h-3zM743 668h3v1h-3zM749 668h3v1h-3zM755 668h3v1h-3zM761 668h2v1h-2zM1205 668h3v1h-3zM635 669h3v1h-3zM713 669h3v1h-3zM719 669h3v1h-3zM725 669h3v1h-3zM731 669h3v1h-3zM629 670h3v1h-3zM1044 670h2v1h-2zM1211 670h2v1h-2zM1409 670h3v1h-3zM1415 670h3v1h-3zM1421 670h3v1h-3zM767 671h2v1h-2zM1403 671h3v1h-3zM623 672h2v1h-2zM1217 672h3v1h-3zM618 673h2v1h-2zM773 673h2v1h-2zM1223 673h2v1h-2zM1397 674h2v1h-2zM1038 675h2v1h-2zM1229 675h2v1h-2zM611 676h2v1h-2zM780 676h2v1h-2zM606 677h2v1h-2zM1235 677h3v1h-3zM1392 677h2v1h-2zM600 678h2v1h-2zM1241 678h2v1h-2zM593 679h3v1h-3zM786 679h2v1h-2zM1032 679h2v1h-2zM569 680h3v1h-3zM575 680h3v1h-3zM581 680h3v1h-3zM587 680h3v1h-3zM1247 680h3v1h-3zM1386 680h2v1h-2zM563 681h3v1h-3zM557 682h3v1h-3zM792 682h2v1h-2zM1254 682h2v1h-2zM545 683h3v1h-3zM551 683h2v1h-2zM1259 683h3v1h-3zM1380 683h2v1h-2zM539 684h3v1h-3zM1265 684h3v1h-3zM798 685h2v1h-2zM1373 685h3v1h-3zM533 686h3v1h-3zM1020 686h2v1h-2zM1272 686h2v1h-2zM804 688h2v1h-2zM1278 688h2v1h-2zM1367 688h2v1h-2zM132 689h2v1h-2zM527 689h2v1h-2zM1284 689h2v1h-2zM1289 689h2v1h-2zM1014 690h2v1h-2zM1361 690h3v1h-3zM810 691h2v1h-2zM1296 691h2v1h-2zM1355 691h3v1h-3zM521 692h2v1h-2zM1301 692h3v1h-3zM1349 692h3v1h-3zM1008 693h2v1h-2zM1307 693h3v1h-3zM1344 693h2v1h-2zM1313 694h3v1h-3zM1319 694h2v1h-2zM1338 694h2v1h-2zM515 695h2v1h-2zM816 695h2v1h-2zM1325 695h3v1h-3zM1331 695h3v1h-3zM354 696h2v1h-2zM359 696h3v1h-3zM365 697h3v1h-3zM821 697h2v1h-2zM1001 697h2v1h-2zM347 698h3v1h-3zM371 698h2v1h-2zM509 698h2v1h-2zM341 699h2v1h-2zM827 699h2v1h-2zM335 700h2v1h-2zM995 700h2v1h-2zM330 701h2v1h-2zM504 701h2v1h-2zM833 701h3v1h-3zM378 702h2v1h-2zM839 702h3v1h-3zM845 702h3v1h-3zM851 702h3v1h-3zM857 702h3v1h-3zM863 702h3v1h-3zM869 702h3v1h-3zM149 703h2v1h-2zM323 703h3v1h-3zM989 703h2v1h-2zM498 704h2v1h-2zM876 704h2v1h-2zM317 705h2v1h-2zM383 705h2v1h-2zM881 705h3v1h-3zM311 706h3v1h-3zM888 706h2v1h-2zM893 706h3v1h-3zM983 706h2v1h-2zM155 707h2v1h-2zM306 707h2v1h-2zM899 707h2v1h-2zM492 708h2v1h-2zM978 708h2v1h-2zM299 709h3v1h-3zM390 709h2v1h-2zM905 710h2v1h-2zM161 711h2v1h-2zM293 711h3v1h-3zM485 712h2v1h-2zM288 713h2v1h-2zM911 713h2v1h-2zM971 713h2v1h-2zM167 714h2v1h-2zM479 715h2v1h-2zM281 716h2v1h-2zM917 716h2v1h-2zM966 716h2v1h-2zM173 717h2v1h-2zM960 718h2v1h-2zM275 719h2v1h-2zM923 719h3v1h-3zM180 720h2v1h-2zM270 720h2v1h-2zM953 720h3v1h-3zM185 721h2v1h-2zM930 721h2v1h-2zM947 721h3v1h-3zM263 722h3v1h-3zM407 722h2v1h-2zM467 722h2v1h-2zM935 722h3v1h-3zM942 722h2v1h-2zM258 723h2v1h-2zM192 724h2v1h-2zM413 725h2v1h-2zM198 726h2v1h-2zM251 726h3v1h-3zM203 727h2v1h-2zM246 728h2v1h-2zM240 729h2v1h-2zM419 729h3v1h-3zM455 729h3v1h-3zM210 730h2v1h-2zM234 730h2v1h-2zM449 730h3v1h-3zM215 731h3v1h-3zM426 731h2v1h-2zM443 731h3v1h-3zM221 732h3v1h-3zM227 732h3v1h-3zM431 732h2v1h-2zM437 732h3v1h-3zM1 607h1v1h-1zM9 602h1v1h-1zM15 599h1v1h-1zM43 597h1v1h-1zM49 600h1v1h-1zM50 601h1v1h-1zM51 602h1v1h-1zM55 605h1v1h-1zM56 606h1v1h-1zM57 607h1v1h-1zM61 610h1v1h-1zM62 611h1v1h-1zM63 612h1v1h-1zM69 616h1v1h-1zM75 619h1v1h-1zM79 623h1v1h-1zM80 624h1v1h-1zM81 625h1v1h-1zM84 629h1v1h-1zM85 630h1v1h-1zM86 631h1v1h-1zM89 635h1v1h-1zM90 636h1v1h-1zM91 637h1v1h-1zM94 641h1v1h-1zM95 642h1v1h-1zM96 643h1v1h-1zM99 647h1v1h-1zM100 648h1v1h-1zM101 649h1v1h-1zM104 653h1v1h-1zM105 654h1v2h-1zM108 659h1v1h-1zM109 660h1v1h-1zM110 661h1v1h-1zM113 665h1v2h-1zM114 667h1v1h-1zM117 671h1v1h-1zM118 672h1v1h-1zM119 673h1v1h-1zM122 677h1v1h-1zM123 678h1v1h-1zM124 679h1v1h-1zM127 683h1v1h-1zM128 684h1v1h-1zM129 685h1v1h-1zM134 690h1v1h-1zM138 692h1v1h-1zM139 693h1v1h-1zM140 694h1v1h-1zM143 698h1v1h-1zM144 699h1v1h-1zM145 700h1v1h-1zM151 704h1v1h-1zM157 708h1v1h-1zM163 712h1v1h-1zM169 715h1v1h-1zM175 718h1v1h-1zM179 719h1v1h-1zM187 722h1v1h-1zM191 723h1v1h-1zM197 725h1v1h-1zM205 728h1v1h-1zM209 729h1v1h-1zM233 731h1v1h-1zM239 730h1v1h-1zM245 729h1v1h-1zM257 724h1v1h-1zM269 721h1v1h-1zM277 718h1v1h-1zM283 715h1v1h-1zM287 714h1v1h-1zM305 708h1v1h-1zM319 704h1v1h-1zM329 702h1v1h-1zM337 699h1v1h-1zM343 698h1v1h-1zM353 697h1v1h-1zM373 699h1v1h-1zM377 701h1v1h-1zM385 706h1v1h-1zM389 708h1v1h-1zM395 712h1v1h-1zM396 713h1v1h-1zM397 714h1v1h-1zM401 718h1v1h-1zM402 719h1v1h-1zM403 720h1v1h-1zM409 723h1v1h-1zM415 726h1v1h-1zM425 730h1v1h-1zM433 733h1v1h-1zM461 727h1v1h-1zM462 726h1v1h-1zM463 725h1v1h-1zM469 721h1v1h-1zM473 719h1v1h-1zM474 718h1v1h-1zM475 717h1v1h-1zM481 714h1v1h-1zM487 711h1v1h-1zM491 709h1v1h-1zM497 705h1v1h-1zM503 702h1v1h-1zM511 697h1v1h-1zM517 694h1v1h-1zM523 691h1v1h-1zM529 688h1v1h-1zM553 682h1v1h-1zM599 679h1v1h-1zM605 678h1v1h-1zM613 675h1v1h-1zM617 674h1v1h-1zM625 671h1v1h-1zM703 668h1v1h-1zM763 669h1v1h-1zM769 672h1v1h-1zM775 674h1v1h-1zM779 675h1v1h-1zM785 678h1v1h-1zM791 681h1v1h-1zM797 684h1v1h-1zM803 687h1v1h-1zM809 690h1v1h-1zM815 694h1v1h-1zM823 698h1v1h-1zM829 700h1v1h-1zM875 703h1v1h-1zM887 705h1v1h-1zM901 708h1v1h-1zM907 711h1v1h-1zM913 714h1v1h-1zM919 717h1v1h-1zM929 720h1v1h-1zM941 723h1v1h-1zM959 719h1v1h-1zM965 717h1v1h-1zM973 712h1v1h-1zM977 709h1v1h-1zM985 705h1v1h-1zM991 702h1v1h-1zM997 699h1v1h-1zM1003 696h1v1h-1zM1007 694h1v1h-1zM1013 691h1v1h-1zM1019 687h1v1h-1zM1025 683h1v1h-1zM1026 682h1v1h-1zM1027 681h1v1h-1zM1031 680h1v1h-1zM1037 676h1v1h-1zM1043 671h1v1h-1zM1049 667h1v1h-1zM1055 663h1v1h-1zM1056 662h1v1h-1zM1057 661h1v1h-1zM1061 659h1v1h-1zM1067 655h1v1h-1zM1073 651h1v1h-1zM1074 650h1v1h-1zM1075 649h1v1h-1zM1081 646h1v1h-1zM1085 645h1v1h-1zM1097 641h1v1h-1zM1105 638h1v1h-1zM1151 641h1v1h-1zM1157 643h1v1h-1zM1165 647h1v1h-1zM1169 648h1v1h-1zM1175 651h1v1h-1zM1181 655h1v1h-1zM1189 660h1v1h-1zM1195 663h1v1h-1zM1201 666h1v1h-1zM1213 671h1v1h-1zM1225 674h1v1h-1zM1231 676h1v1h-1zM1243 679h1v1h-1zM1253 681h1v1h-1zM1271 685h1v1h-1zM1277 687h1v1h-1zM1283 688h1v1h-1zM1291 690h1v1h-1zM1295 690h1v1h-1zM1321 695h1v1h-1zM1337 695h1v1h-1zM1343 694h1v1h-1zM1369 687h1v1h-1zM1379 684h1v1h-1zM1385 681h1v1h-1zM1391 678h1v1h-1zM1399 673h1v1h-1zM1427 670h1v1h-1z" fill="#ff0000"/>
<path d="M2 789h3v1h-3zM8 789h3v1h-3zM14 789h3v1h-3zM20 789h3v1h-3zM26 789h3v1h-3zM32 789h3v1h-3zM38 789h3v1h-3zM44 789h3v1h-3zM50 789h3v1h-3zM56 789h3v1h-3zM62 789h3v1h-3zM68 789h3v1h-3zM74 789h3v1h-3zM80 789h3v1h-3zM86 789h3v1h-3zM92 789h3v1h-3zM98 789h3v1h-3zM104 789h3v1h-3zM110 789h3v1h-3zM116 789h3v1h-3zM122 789h3v1h-3zM128 789h3v1h-3zM134 789h3v1h-3zM140 789h3v1h-3zM146 789h3v1h-3zM152 789h3v1h-3zM158 789h3v1h-3zM164 789h3v1h-3zM170 789h3v1h-3zM176 789h3v1h-3zM182 789h3v1h-3zM188 789h3v1h-3zM194 789h3v1h-3zM200 789h3v1h-3zM206 789h3v1h-3zM212 789h3v1h-3zM218 789h3v1h-3zM224 789h3v1h-3zM230 789h3v1h-3zM236 789h3v1h-3zM242 789h3v1h-3zM248 789h3v1h-3zM254 789h3v1h-3zM260 789h3v1h-3zM266 789h3v1h-3zM272 789h3v1h-3zM278 789h3v1h-3zM284 789h3v1h-3zM290 789h3v1h-3zM296 789h3v1h-3zM302 789h3v1h-3zM308 789h3v1h-3zM314 789h3v1h-3zM320 789h3v1h-3zM326 789h3v1h-3zM332 789h3v1h-3zM338 789h3v1h-3zM344 789h3v1h-3zM350 789h3v1h-3zM356 789h3v1h-3zM362 789h3v1h-3zM368 789h3v1h-3zM374 789h3v1h-3zM380 789h3v1h-3zM386 789h3v1h-3zM392 789h3v1h-3zM398 789h3v1h-3zM404 789h3v1h-3zM410 789h3v1h-3zM416 789h3v1h-3zM422 789h3v1h-3zM428 789h3v1h-3zM434 789h3v1h-3zM440 789h3v1h-3zM446 789h3v1h-3zM452 789h3v1h-3zM458 789h3v1h-3zM464 789h3v1h-3zM470 789h3v1h-3zM476 789h3v1h-3zM482 789h3v1h-3zM488 789h3v1h-3zM494 789h3v1h-3zM500 789h3v1h-3zM506 789h3v1h-3zM512 789h3v1h-3zM518 789h3v1h-3zM524 789h3v1h-3zM530 789h3v1h-3zM536 789h3v1h-3zM542 789h3v1h-3zM548 789h3v1h-3zM554 789h3v1h-3zM560 789h3v1h-3zM566 789h3v1h-3zM572 789h3v1h-3zM578 789h3v1h-3zM584 789h3v1h-3zM590 789h3v1h-3zM596 789h3v1h-3zM602 789h3v1h-3zM608 789h3v1h-3zM614 789h3v1h-3zM620 789h3v1h-3zM626 789h3v1h-3zM632 789h3v1h-3zM638 789h3v1h-3zM644 789h3v1h-3zM650 789h3v1h-3zM656 789h3v1h-3zM662 789h3v1h-3zM668 789h3v1h-3zM674 789h3v1h-3zM680 789h3v1h-3zM686 789h3v1h-3zM692 789h3v1h-3zM698 789h3v1h-3zM704 789h3v1h-3zM710 789h3v1h-3zM716 789h3v1h-3zM722 789h3v1h-3zM728 789h3v1h-3zM734 789h3v1h-3zM740 789h3v1h-3zM746 789h3v1h-3zM752 789h3v1h-3zM758 789h3v1h-3zM764 789h3v1h-3zM770 789h3v1h-3zM776 789h3v1h-3zM782 789h3v1h-3zM788 789h3v1h-3zM794 789h3v1h-3zM800 789h3v1h-3zM806 789h3v1h-3zM812 789h3v1h-3zM818 789h3v1h-3zM824 789h3v1h-3zM830 789h3v1h-3zM836 789h3v1h-3zM842 789h3v1h-3zM848 789h3v1h-3zM854 789h3v1h-3zM860 789h3v1h-3zM866 789h3v1h-3zM872 789h3v1h-3zM878 789h3v1h-3zM884 789h3v1h-3zM890 789h3v1h-3zM896 789h3v1h-3zM902 789h3v1h-3zM908 789h3v1h-3zM914 789h3v1h-3zM920 789h3v1h-3zM926 789h3v1h-3zM932 789h3v1h-3zM938 789h3v1h-3zM944 789h3v1h-3zM950 789h3v1h-3zM956 789h3v1h-3zM962 789h3v1h-3zM968 789h3v1h-3zM974 789h3v1h-3zM980 789h3v1h-3zM986 789h3v1h-3zM992 789h3v1h-3zM998 789h3v1h-3zM1004 789h3v1h-3zM1010 789h3v1h-3zM1016 789h3v1h-3zM1022 789h3v1h-3zM1028 789h3v1h-3zM1034 789h3v1h-3zM1040 789h3v1h-3zM1046 789h3v1h-3zM1052 789h3v1h-3zM1058 789h3v1h-3zM1064 789h3v1h-3zM1070 789h3v1h-3zM1076 789h3v1h-3zM1082 789h3v1h-3zM1088 789h3v1h-3zM1094 789h3v1h-3zM1100 789h3v1h-3zM1106 789h3v1h-3zM1112 789h3v1h-3zM1118 789h3v1h-3zM1124 789h3v1h-3zM1130 789h3v1h-3zM1136 789h3v1h-3zM1142 789h3v1h-3zM1148 789h3v1h-3zM1154 789h3v1h-3zM1160 789h3v1h-3zM1166 789h3v1h-3zM1172 789h3v1h-3zM1178 789h3v1h-3zM1184 789h3v1h-3zM1190 789h3v1h-3zM1196 789h3v1h-3zM1202 789h3v1h-3zM1208 789h3v1h-3zM1214 789h3v1h-3zM1220 789h3v1h-3zM1226 789h3v1h-3zM1232 789h3v1h-3zM1238 789h3v1h-3zM1244 789h3v1h-3zM1250 789h3v1h-3zM1256 789h3v1h-3zM1262 789h3v1h-3zM1268 789h3v1h-3zM1274 789h3v1h-3zM1280 789h3v1h-3zM1286 789h3v1h-3zM1292 789h3v1h-3zM1298 789h3v1h-3zM1304 789h3v1h-3zM1310 789h3v1h-3zM1316 789h3v1h-3zM1322 789h3v1h-3zM1328 789h3v1h-3zM1334 789h3v1h-3zM1340 789h3v1h-3zM1346 789h3v1h-3zM1352 789h3v1h-3zM1358 789h3v1h-3zM1364 789h3v1h-3zM1370 789h3v1h-3zM1376 789h3v1h-3zM1382 789h3v1h-3zM1388 789h3v1h-3zM1394 789h3v1h-3zM1400 789h3v1h-3zM1406 789h3v1h-3zM1412 789h3v1h-3zM1418 789h3v1h-3zM1424 789h3v1h-3zM1430 789h3v1h-3zM1436 789h3v1h-3zM1442 789h3v1h-3zM1448 789h3v1h-3zM1454 789h3v1h-3zM1460 789h3v1h-3zM1466 789h3v1h-3zM1472 789h3v1h-3zM1478 789h3v1h-3zM1484 789h3v1h-3zM1490 789h3v1h-3zM1496 789h3v1h-3zM1502 789h3v1h-3zM1508 789h3v1h-3zM1514 789h3v1h-3zM1520 789h3v1h-3zM1526 789h3v1h-3zM1532 789h3v1h-3zM1538 789h3v1h-3zM1544 789h3v1h-3zM1550 789h3v1h-3zM1556 789h3v1h-3zM1562 789h3v1h-3zM1568 789h3v1h-3zM1574 789h3v1h-3zM1580 789h3v1h-3zM1586 789h3v1h-3zM1592 789h3v1h-3zM1598 789h3v1h-3zM1604 789h3v1h-3zM1610 789h3v1h-3zM1616 789h3v1h-3zM1622 789h3v1h-3zM1628 789h3v1h-3zM1634 789h3v1h-3zM1640 789h3v1h-3zM1646 789h3v1h-3zM1652 789h1v1h-1zM2 840h3v1h-3zM8 840h3v1h-3zM14 840h3v1h-3zM20 840h3v1h-3zM26 840h3v1h-3zM32 840h3v1h-3zM38 840h3v1h-3zM44 840h3v1h-3zM50 840h3v1h-3zM56 840h3v1h-3zM62 840h3v1h-3zM68 840h3v1h-3zM74 840h3v1h-3zM80 840h3v1h-3zM86 840h3v1h-3zM92 840h3v1h-3zM98 840h3v1h-3zM104 840h3v1h-3zM110 840h3v1h-3zM116 840h3v1h-3zM122 840h3v1h-3zM128 840h3v1h-3zM134 840h3v1h-3zM140 840h3v1h-3zM146 840h3v1h-3zM152 840h3v1h-3zM158 840h3v1h-3zM164 840h3v1h-3zM170 840h3v1h-3zM176 840h3v1h-3zM182 840h3v1h-3zM188 840h3v1h-3zM194 840h3v1h-3zM200 840h3v1h-3zM206 840h3v1h-3zM212 840h3v1h-3zM218 840h3v1h-3zM224 840h3v1h-3zM230 840h3v1h-3zM236 840h3v1h-3zM242 840h3v1h-3zM248 840h3v1h-3zM254 840h3v1h-3zM260 840h3v1h-3zM266 840h3v1h-3zM272 840h3v1h-3zM278 840h3v1h-3zM284 840h3v1h-3zM290 840h3v1h-3zM296 840h3v1h-3zM302 840h3v1h-3zM308 840h3v1h-3zM314 840h3v1h-3zM320 840h3v1h-3zM326 840h3v1h-3zM332 840h3v1h-3zM338 840h3v1h-3zM344 840h3v1h-3zM350 840h3v1h-3zM356 840h3v1h-3zM362 840h3v1h-3zM368 840h3v1h-3zM374 840h3v1h-3zM380 840h3v1h-3zM386 840h3v1h-3zM392 840h3v1h-3zM398 840h3v1h-3zM404 840h3v1h-3zM410 840h3v1h-3zM416 840h3v1h-3zM422 840h3v1h-3zM428 840h3v1h-3zM434 840h3v1h-3zM440 840h3v1h-3zM446 840h3v1h-3zM452 840h3v1h-3zM458 840h3v1h-3zM464 840h3v1h-3zM470 840h3v1h-3zM476 840h3v1h-3zM482 840h3v1h-3zM488 840h3v1h-3zM494 840h3v1h-3zM500 840h3v1h-3zM506 840h3v1h-3zM512 840h3v1h-3zM518 840h3v1h-3zM524 840h3v1h-3zM530 840h3v1h-3zM536 840h3v1h-3zM542 840h3v1h-3zM548 840h3v1h-3zM554 840h3v1h-3zM560 840h3v1h-3zM566 840h3v1h-3zM572 840h3v1h-3zM578 840h3v1h-3zM584 840h3v1h-3zM590 840h3v1h-3zM596 840h3v1h-3zM602 840h3v1h-3zM608 840h3v1h-3zM614 840h3v1h-3zM620 840h3v1h-3zM626 840h3v1h-3zM632 840h3v1h-3zM638 840h3v1h-3zM644 840h3v1h-3zM650 840h3v1h-3zM656 840h3v1h-3zM662 840h3v1h-3zM668 840h3v1h-3zM674 840h3v1h-3zM680 840h3v1h-3zM686 840h3v1h-3zM692 840h3v1h-3zM698 840h3v1h-3zM704 840h3v1h-3zM710 840h3v1h-3zM716 840h3v1h-3zM722 840h3v1h-3zM728 840h3v1h-3zM734 840h3v1h-3zM740 840h3v1h-3zM746 840h3v1h-3zM752 840h3v1h-3zM758 840h3v1h-3zM764 840h3v1h-3zM770 840h3v1h-3zM776 840h3v1h-3zM782 840h3v1h-3zM788 840h3v1h-3zM794 840h3v1h-3zM800 840h3v1h-3zM806 840h3v1h-3zM812 840h3v1h-3zM818 840h3v1h-3zM824 840h3v1h-3zM830 840h3v1h-3zM836 840h3v1h-3zM842 840h3v1h-3zM848 840h3v1h-3zM854 840h3v1h-3zM860 840h3v1h-3zM866 840h3v1h-3zM872 840h3v1h-3zM878 840h3v1h-3zM884 840h3v1h-3zM890 840h3v1h-3zM896 840h3v1h-3zM902 840h3v1h-3zM908 840h3v1h-3zM914 840h3v1h-3zM920 840h3v1h-3zM926 840h3v1h-3zM932 840h3v1h-3zM938 840h3v1h-3zM944 840h3v1h-3zM950 840h3v1h-3zM956 840h3v1h-3zM962 840h3v1h-3zM968 840h3v1h-3zM974 840h3v1h-3zM980 840h3v1h-3zM986 840h3v1h-3zM992 840h3v1h-3zM998 840h3v1h-3zM1004 840h3v1h-3zM1010 840h3v1h-3zM1016 840h3v1h-3zM1022 840h3v1h-3zM1028 840h3v1h-3zM1034 840h3v1h-3zM1040 840h3v1h-3zM1046 840h3v1h-3zM1052 840h3v1h-3zM1058 840h3v1h-3zM1064 840h3v1h-3zM1070 840h3v1h-3zM1076 840h3v1h-3zM1082 840h3v1h-3zM1088 840h3v1h-3zM1094 840h3v1h-3zM1100 840h3v1h-3zM1106 840h3v1h-3zM1112 840h3v1h-3zM1118 840h3v1h-3zM1124 840h3v1h-3zM1130 840h3v1h-3zM1136 840h3v1h-3zM1142 840h3v1h-3zM1148 840h3v1h-3zM1154 840h3v1h-3zM1160 840h3v1h-3zM1166 840h3v1h-3zM1172 840h3v1h-3zM1178 840h3v1h-3zM1184 840h3v1h-3zM1190 840h3v1h-3zM1196 840h3v1h-3zM1202 840h3v1h-3zM1208 840h3v1h-3zM1214 840h3v1h-3zM1220 840h3v1h-3zM1226 840h3v1h-3zM1232 840h3v1h-3zM1238 840h3v1h-3zM1244 840h3v1h-3zM1250 840h3v1h-3zM1256 840h3v1h-3zM1262 840h3v1h-3zM1268 840h3v1h-3zM1274 840h3v1h-3zM1280 840h3v1h-3zM1286 840h3v1h-3zM1292 840h3v1h-3zM1298 840h3v1h-3zM1304 840h3v1h-3zM1310 840h3v1h-3zM1316 840h3v1h-3zM1322 840h3v1h-3zM1328 840h3v1h-3zM1334 840h3v1h-3zM1340 840h3v1h-3zM1346 840h3v1h-3zM1352 840h3v1h-3zM1358 840h3v1h-3zM1364 840h3v1h-3zM1370 840h3v1h-3zM1376 840h3v1h-3zM1382 840h3v1h-3zM1388 840h3v1h-3zM1394 840h3v1h-3zM1400 840h3v1h-3zM1406 840h3v1h-3zM1412 840h3v1h-3zM1418 840h3v1h-3zM1424 840h3v1h-3zM1430 840h3v1h-3zM1436 840h3v1h-3zM1442 840h3v1h-3zM1448 840h3v1h-3zM1454 840h3v1h-3zM1460 840h3v1h-3zM1466 840h3v1h-3zM1472 840h3v1h-3zM1478 840h3v1h-3zM1484 840h3v1h-3zM1490 840h3v1h-3zM1496 840h3v1h-3zM1502 840h3v1h-3zM1508 840h3v1h-3zM1514 840h3v1h-3zM1520 840h3v1h-3zM1526 840h3v1h-3zM1532 840h3v1h-3zM1538 840h3v1h-3zM1544 840h3v1h-3zM1550 840h3v1h-3zM1556 840h3v1h-3zM1562 840h3v1h-3zM1568 840h3v1h-3zM1574 840h3v1h-3zM1580 840h3v1h-3zM1586 840h3v1h-3zM1592 840h3v1h-3zM1598 840h3v1h-3zM1604 840h3v1h-3zM1610 840h3v1h-3zM1616 840h3v1h-3zM1622 840h3v1h-3zM1628 840h3v1h-3zM1634 840h3v1h-3zM1640 840h3v1h-3zM1646 840h3v1h-3zM1652 840h1v1h-1zM2 901h3v1h-3zM8 901h3v1h-3zM14 901h3v1h-3zM20 901h3v1h-3zM26 901h3v1h-3zM32 901h3v1h-3zM38 901h3v1h-3zM44 901h3v1h-3zM50 901h3v1h-3zM56 901h3v1h-3zM62 901h3v1h-3zM68 901h3v1h-3zM74 901h3v1h-3zM80 901h3v1h-3zM86 901h3v1h-3zM92 901h3v1h-3zM98 901h3v1h-3zM104 901h3v1h-3zM110 901h3v1h-3zM116 901h3v1h-3zM122 901h3v1h-3zM128 901h3v1h-3zM134 901h3v1h-3zM140 901h3v1h-3zM146 901h3v1h-3zM152 901h3v1h-3zM158 901h3v1h-3zM164 901h3v1h-3zM170 901h3v1h-3zM176 901h3v1h-3zM182 901h3v1h-3zM188 901h3v1h-3zM194 901h3v1h-3zM200 901h3v1h-3zM206 901h3v1h-3zM212 901h3v1h-3zM218 901h3v1h-3zM224 901h3v1h-3zM230 901h3v1h-3zM236 901h3v1h-3zM242 901h3v1h-3zM248 901h3v1h-3zM254 901h3v1h-3zM260 901h3v1h-3zM266 901h3v1h-3zM272 901h3v1h-3zM278 901h3v1h-3zM284 901h3v1h-3zM290 901h3v1h-3zM296 901h3v1h-3zM302 901h3v1h-3zM308 901h3v1h-3zM314 901h3v1h-3zM320 901h3v1h-3zM326 901h3v1h-3zM332 901h3v1h-3zM338 901h3v1h-3zM344 901h3v1h-3zM350 901h3v1h-3zM356 901h3v1h-3zM362 901h3v1h-3zM368 901h3v1h-3zM374 901h3v1h-3zM380 901h3v1h-3zM386 901h3v1h-3zM392 901h3v1h-3zM398 901h3v1h-3zM404 901h3v1h-3zM410 901h3v1h-3zM416 901h3v1h-3zM422 901h3v1h-3zM428 901h3v1h-3zM434 901h3v1h-3zM440 901h3v1h-3zM446 901h3v1h-3zM452 901h3v1h-3zM458 901h3v1h-3zM464 901h3v1h-3zM470 901h3v1h-3zM476 901h3v1h-3zM482 901h3v1h-3zM488 901h3v1h-3zM494 901h3v1h-3zM500 901h3v1h-3zM506 901h3v1h-3zM512 901h3v1h-3zM518 901h3v1h-3zM524 901h3v1h-3zM530 901h3v1h-3zM536 901h3v1h-3zM542 901h3v1h-3zM548 901h3v1h-3zM554 901h3v1h-3zM560 901h3v1h-3zM566 901h3v1h-3zM572 901h3v1h-3zM578 901h3v1h-3zM584 901h3v1h-3zM590 901h3v1h-3zM596 901h3v1h-3zM602 901h3v1h-3zM608 901h3v1h-3zM614 901h3v1h-3zM620 901h3v1h-3zM626 901h3v1h-3zM632 901h3v1h-3zM638 901h3v1h-3zM644 901h3v1h-3zM650 901h3v1h-3zM656 901h3v1h-3zM662 901h3v1h-3zM668 901h3v1h-3zM674 901h3v1h-3zM680 901h3v1h-3zM686 901h3v1h-3zM692 901h3v1h-3zM698 901h3v1h-3zM704 901h3v1h-3zM710 901h3v1h-3zM716 901h3v1h-3zM722 901h3v1h-3zM728 901h3v1h-3zM734 901h3v1h-3zM740 901h3v1h-3zM746 901h3v1h-3zM752 901h3v1h-3zM758 901h3v1h-3zM764 901h3v1h-3zM770 901h3v1h-3zM776 901h3v1h-3zM782 901h3v1h-3zM788 901h3v1h-3zM794 901h3v1h-3zM800 901h3v1h-3zM806 901h3v1h-3zM812 901h3v1h-3zM818 901h3v1h-3zM824 901h3v1h-3zM830 901h3v1h-3zM836 901h3v1h-3zM842 901h3v1h-3zM848 901h3v1h-3zM854 901h3v1h-3zM860 901h3v1h-3zM866 901h3v1h-3zM872 901h3v1h-3zM878 901h3v1h-3zM884 901h3v1h-3zM890 901h3v1h-3zM896 901h3v1h-3zM902 901h3v1h-3zM908 901h3v1h-3zM914 901h3v1h-3zM920 901h3v1h-3zM926 901h3v1h-3zM932 901h3v1h-3zM938 901h3v1h-3zM944 901h3v1h-3zM950 901h3v1h-3zM956 901h3v1h-3zM962 901h3v1h-3zM968 901h3v1h-3zM974 901h3v1h-3zM980 901h3v1h-3zM986 901h3v1h-3zM992 901h3v1h-3zM998 901h3v1h-3zM1004 901h3v1h-3zM1010 901h3v1h-3zM1016 901h3v1h-3zM1022 901h3v1h-3zM1028 901h3v1h-3zM1034 901h3v1h-3zM1040 901h3v1h-3zM1046 901h3v1h-3zM1052 901h3v1h-3zM1058 901h3v1h-3zM1064 901h3v1h-3zM1070 901h3v1h-3zM1076 901h3v1h-3zM1082 901h3v1h-3zM1088 901h3v1h-3zM1094 901h3v1h-3zM1100 901h3v1h-3zM1106 901h3v1h-3zM1112 901h3v1h-3zM1118 901h3v1h-3zM1124 901h3v1h-3zM1130 901h3v1h-3zM1136 901h3v1h-3zM1142 901h3v1h-3zM1148 901h3v1h-3zM1154 901h3v1h-3zM1160 901h3v1h-3zM1166 901h3v1h-3zM1172 901h3v1h-3zM1178 901h3v1h-3zM1184 901h3v1h-3zM1190 901h3v1h-3zM1196 901h3v1h-3zM1202 901h3v1h-3zM1208 901h3v1h-3zM1214 901h3v1h-3zM1220 901h3v1h-3zM1226 901h3v1h-3zM1232 901h3v1h-3zM1238 901h3v1h-3zM1244 901h3v1h-3zM1250 901h3v1h-3zM1256 901h3v1h-3zM1262 901h3v1h-3zM1268 901h3v1h-3zM1274 901h3v1h-3zM1280 901h3v1h-3zM1286 901h3v1h-3zM1292 901h3v1h-3zM1298 901h3v1h-3zM1304 901h3v1h-3zM1310 901h3v1h-3zM1316 901h3v1h-3zM1322 901h3v1h-3zM1328 901h3v1h-3zM1334 901h3v1h-3zM1340 901h3v1h-3zM1346 901h3v1h-3zM1352 901h3v1h-3zM1358 901h3v1h-3zM1364 901h3v1h-3zM1370 901h3v1h-3zM1376 901h3v1h-3zM1382 901h3v1h-3zM1388 901h3v1h-3zM1394 901h3v1h-3zM1400 901h3v1h-3zM1406 901h3v1h-3zM1412 901h3v1h-3zM1418 901h3v1h-3zM1424 901h3v1h-3zM1430 901h3v1h-3zM1436 901h3v1h-3zM1442 901h3v1h-3zM1448 901h3v1h-3zM1454 901h3v1h-3zM1460 901h3v1h-3zM1466 901h3v1h-3zM1472 901h3v1h-3zM1478 901h3v1h-3zM1484 901h3v1h-3zM1490 901h3v1h-3zM1496 901h3v1h-3zM1502 901h3v1h-3zM1508 901h3v1h-3zM1514 901h3v1h-3zM1520 901h3v1h-3zM1526 901h3v1h-3zM1532 901h3v1h-3zM1538 901h3v1h-3zM1544 901h3v1h-3zM1550 901h3v1h-3zM1556 901h3v1h-3zM1562 901h3v1h-3zM1568 901h3v1h-3zM1574 901h3v1h-3zM1580 901h3v1h-3zM1586 901h3v1h-3zM1592 901h3v1h-3zM1598 901h3v1h-3zM1604 901h3v1h-3zM1610 901h3v1h-3zM1616 901h3v1h-3zM1622 901h3v1h-3zM1628 901h3v1h-3zM1634 901h3v1h-3zM1640 901h3v1h-3zM1646 901h3v1h-3zM1652 901h1v1h-1z" fill="#c0c0c0"/>
<path d="M1034 809h2v1h-2zM1030 810h4v1h-4zM1027 811h3v1h-3zM1025 812h2v1h-2zM1057 813h2v1h-2zM1022 814h2v1h-2zM1055 814h2v1h-2zM1020 815h2v1h-2zM1053 815h2v1h-2zM1096 815h2v1h-2zM1050 816h3v1h-3zM18 817h2v1h-2zM1017 817h2v1h-2zM1046 817h4v1h-4zM16 818h2v1h-2zM1043 818h3v1h-3zM1092 818h2v1h-2zM1370 818h10v1h-10zM13 819h3v1h-3zM1014 819h2v1h-2zM1366 819h4v1h-4zM11 820h2v1h-2zM1012 820h2v1h-2zM1363 820h3v1h-3zM1107 822h2v1h-2zM35 823h2v1h-2zM1086 823h2v1h-2zM1109 823h3v1h-3zM6 824h2v1h-2zM37 824h3v1h-3zM1068 824h2v1h-2zM1112 824h2v1h-2zM40 825h2v1h-2zM1114 825h3v1h-3zM42 826h2v1h-2zM506 826h2v1h-2zM1082 826h2v1h-2zM1117 826h2v1h-2zM504 827h2v1h-2zM606 827h2v1h-2zM1072 827h2v1h-2zM1080 827h2v1h-2zM1119 827h2v1h-2zM501 828h3v1h-3zM744 828h4v1h-4zM1077 828h3v1h-3zM1121 828h2v1h-2zM499 829h2v1h-2zM626 829h10v1h-10zM688 829h4v1h-4zM739 829h5v1h-5zM1075 829h2v1h-2zM307 830h2v1h-2zM622 830h4v1h-4zM682 830h6v1h-6zM692 830h2v1h-2zM1352 830h4v1h-4zM309 831h3v1h-3zM570 831h2v1h-2zM619 831h3v1h-3zM678 831h4v1h-4zM1346 831h6v1h-6zM1388 831h2v1h-2zM312 832h2v1h-2zM568 832h2v1h-2zM600 832h2v1h-2zM675 832h3v1h-3zM947 832h9v1h-9zM1344 832h2v1h-2zM1390 832h2v1h-2zM314 833h2v1h-2zM476 833h2v1h-2zM565 833h3v1h-3zM696 833h2v1h-2zM1341 833h3v1h-3zM472 834h2v1h-2zM478 834h2v1h-2zM563 834h2v1h-2zM1338 834h3v1h-3zM1393 834h2v1h-2zM596 835h2v1h-2zM699 835h3v1h-3zM958 835h2v1h-2zM1336 835h2v1h-2zM1395 835h9v1h-9zM27 836h2v1h-2zM481 836h2v1h-2zM587 836h9v1h-9zM702 836h4v1h-4zM1138 836h2v1h-2zM1333 836h3v1h-3zM68 837h2v1h-2zM227 837h3v1h-3zM468 837h2v1h-2zM516 837h2v1h-2zM706 837h6v1h-6zM986 837h3v1h-3zM1134 837h4v1h-4zM1140 837h2v1h-2zM1289 837h3v1h-3zM1331 837h2v1h-2zM230 838h4v1h-4zM484 838h2v1h-2zM518 838h2v1h-2zM712 838h5v1h-5zM984 838h2v1h-2zM989 838h2v1h-2zM1001 838h2v1h-2zM1131 838h3v1h-3zM1142 838h2v1h-2zM1224 838h4v1h-4zM1287 838h2v1h-2zM234 839h10v1h-10zM548 839h2v1h-2zM717 839h2v1h-2zM836 839h2v1h-2zM963 839h13v1h-13zM981 839h3v1h-3zM991 839h2v1h-2zM999 839h2v1h-2zM1219 839h5v1h-5zM1285 839h2v1h-2zM72 840h2v1h-2zM436 840h2v1h-2zM521 840h2v1h-2zM582 840h2v1h-2zM719 840h2v1h-2zM730 840h2v1h-2zM832 840h2v1h-2zM976 840h5v1h-5zM993 840h2v1h-2zM997 840h2v1h-2zM1145 840h2v1h-2zM1283 840h2v1h-2zM137 841h2v1h-2zM438 841h2v1h-2zM488 841h2v1h-2zM664 841h4v1h-4zM721 841h2v1h-2zM726 841h4v1h-4zM995 841h2v1h-2zM1201 841h2v1h-2zM552 842h2v1h-2zM659 842h5v1h-5zM723 842h3v1h-3zM840 842h2v1h-2zM1199 842h2v1h-2zM134 843h2v1h-2zM441 843h2v1h-2zM828 843h2v1h-2zM1197 843h2v1h-2zM132 844h2v1h-2zM296 844h4v1h-4zM443 844h2v1h-2zM1164 844h2v1h-2zM1192 844h5v1h-5zM275 845h5v1h-5zM288 845h8v1h-8zM445 845h3v1h-3zM844 845h2v1h-2zM1160 845h2v1h-2zM1179 845h13v1h-13zM273 846h2v1h-2zM280 846h8v1h-8zM328 846h8v1h-8zM448 846h2v1h-2zM643 846h2v1h-2zM654 846h2v1h-2zM937 846h2v1h-2zM1177 846h2v1h-2zM271 847h2v1h-2zM323 847h5v1h-5zM336 847h6v1h-6zM450 847h3v1h-3zM645 847h3v1h-3zM857 847h3v1h-3zM935 847h2v1h-2zM1168 847h2v1h-2zM1175 847h2v1h-2zM259 848h5v1h-5zM269 848h2v1h-2zM342 848h4v1h-4zM453 848h2v1h-2zM538 848h2v1h-2zM648 848h2v1h-2zM848 848h2v1h-2zM855 848h2v1h-2zM933 848h2v1h-2zM1156 848h2v1h-2zM1173 848h2v1h-2zM257 849h2v1h-2zM264 849h5v1h-5zM346 849h2v1h-2zM455 849h2v1h-2zM534 849h4v1h-4zM650 849h2v1h-2zM853 849h2v1h-2zM931 849h2v1h-2zM1171 849h2v1h-2zM419 850h5v1h-5zM457 850h2v1h-2zM531 850h3v1h-3zM756 850h2v1h-2zM795 850h5v1h-5zM851 850h2v1h-2zM929 850h2v1h-2zM154 851h6v1h-6zM195 851h3v1h-3zM254 851h2v1h-2zM417 851h2v1h-2zM424 851h4v1h-4zM758 851h2v1h-2zM800 851h5v1h-5zM927 851h2v1h-2zM1307 851h5v1h-5zM106 852h3v1h-3zM152 852h2v1h-2zM160 852h6v1h-6zM198 852h4v1h-4zM208 852h12v1h-12zM252 852h2v1h-2zM805 852h2v1h-2zM925 852h2v1h-2zM1235 852h3v1h-3zM1305 852h2v1h-2zM1312 852h4v1h-4zM102 853h4v1h-4zM109 853h2v1h-2zM149 853h3v1h-3zM166 853h4v1h-4zM202 853h6v1h-6zM414 853h2v1h-2zM761 853h2v1h-2zM807 853h2v1h-2zM922 853h3v1h-3zM1238 853h4v1h-4zM1303 853h2v1h-2zM99 854h3v1h-3zM111 854h2v1h-2zM147 854h2v1h-2zM170 854h2v1h-2zM412 854h2v1h-2zM809 854h2v1h-2zM816 854h4v1h-4zM920 854h2v1h-2zM1242 854h10v1h-10zM1301 854h2v1h-2zM83 855h2v1h-2zM97 855h2v1h-2zM113 855h2v1h-2zM172 855h2v1h-2zM811 855h5v1h-5zM917 855h3v1h-3zM1252 855h2v1h-2zM1272 855h4v1h-4zM1299 855h2v1h-2zM85 856h2v1h-2zM115 856h3v1h-3zM174 856h2v1h-2zM409 856h2v1h-2zM915 856h2v1h-2zM1267 856h5v1h-5zM87 857h2v1h-2zM94 857h2v1h-2zM118 857h4v1h-4zM892 857h2v1h-2zM1265 857h2v1h-2zM89 858h2v1h-2zM92 858h2v1h-2zM122 858h2v1h-2zM177 858h2v1h-2zM406 858h2v1h-2zM1256 858h2v1h-2zM1263 858h2v1h-2zM179 859h2v1h-2zM404 859h2v1h-2zM1261 859h2v1h-2zM181 860h3v1h-3zM355 860h9v1h-9zM896 860h2v1h-2zM1259 860h2v1h-2zM1322 860h2v1h-2zM184 861h2v1h-2zM186 862h2v1h-2zM782 863h2v1h-2zM1419 863h5v1h-5zM1424 864h4v1h-4zM902 865h2v1h-2zM776 866h4v1h-4zM771 867h5v1h-5zM867 868h11v1h-11zM878 869h4v1h-4zM882 870h2v1h-2zM371 872h5v1h-5zM376 873h16v1h-16zM392 874h4v1h-4zM0 824h1v1h-1zM1 825h1v1h-1zM2 826h1v1h-1zM3 827h1v1h-1zM4 826h1v1h-1zM5 825h1v1h-1zM8 823h1v1h-1zM9 822h1v1h-1zM10 821h1v1h-1zM19 818h1v1h-1zM20 819h1v2h-1zM21 821h1v3h-1zM22 824h1v2h-1zM23 826h1v3h-1zM24 829h1v2h-1zM25 831h1v3h-1zM26 834h1v2h-1zM27 837h1v1h-1zM28 835h1v1h-1zM29 833h1v2h-1zM30 831h1v2h-1zM31 830h1v1h-1zM32 828h1v2h-1zM33 826h1v2h-1zM34 824h1v2h-1zM44 827h1v2h-1zM45 829h1v2h-1zM46 831h1v2h-1zM47 833h1v2h-1zM48 835h1v2h-1zM49 837h1v2h-1zM50 839h1v2h-1zM51 841h1v1h-1zM52 842h1v1h-1zM53 843h1v1h-1zM54 844h1v1h-1zM55 845h1v2h-1zM56 847h1v1h-1zM57 848h1v1h-1zM58 849h1v1h-1zM59 850h1v1h-1zM60 848h1v2h-1zM61 846h1v2h-1zM62 844h1v2h-1zM63 843h1v1h-1zM64 841h1v2h-1zM65 839h1v2h-1zM66 837h1v2h-1zM67 836h1v1h-1zM70 838h1v1h-1zM71 839h1v1h-1zM74 841h1v1h-1zM75 842h1v1h-1zM76 843h1v2h-1zM77 845h1v2h-1zM78 847h1v1h-1zM79 848h1v2h-1zM80 850h1v1h-1zM81 851h1v2h-1zM82 853h1v2h-1zM91 859h1v1h-1zM96 856h1v1h-1zM124 856h1v2h-1zM125 854h1v2h-1zM126 853h1v1h-1zM127 851h1v2h-1zM128 850h1v1h-1zM129 848h1v2h-1zM130 846h1v2h-1zM131 845h1v1h-1zM136 842h1v1h-1zM139 840h1v1h-1zM140 841h1v2h-1zM141 843h1v2h-1zM142 845h1v2h-1zM143 847h1v1h-1zM144 848h1v2h-1zM145 850h1v2h-1zM146 852h1v2h-1zM176 857h1v1h-1zM188 860h1v2h-1zM189 859h1v1h-1zM190 858h1v1h-1zM191 856h1v2h-1zM192 855h1v1h-1zM193 854h1v1h-1zM194 852h1v2h-1zM220 850h1v2h-1zM221 848h1v2h-1zM222 846h1v2h-1zM223 844h1v2h-1zM224 842h1v2h-1zM225 840h1v2h-1zM226 838h1v2h-1zM244 840h1v2h-1zM245 842h1v2h-1zM246 844h1v2h-1zM247 846h1v1h-1zM248 847h1v2h-1zM249 849h1v2h-1zM250 851h1v2h-1zM251 853h1v1h-1zM256 850h1v1h-1zM300 842h1v2h-1zM301 840h1v2h-1zM302 838h1v2h-1zM303 837h1v1h-1zM304 835h1v2h-1zM305 833h1v2h-1zM306 831h1v2h-1zM316 834h1v2h-1zM317 836h1v2h-1zM318 838h1v2h-1zM319 840h1v1h-1zM320 841h1v2h-1zM321 843h1v2h-1zM322 845h1v2h-1zM348 850h1v2h-1zM349 852h1v1h-1zM350 853h1v1h-1zM351 854h1v2h-1zM352 856h1v1h-1zM353 857h1v1h-1zM354 858h1v2h-1zM364 861h1v2h-1zM365 863h1v1h-1zM366 864h1v2h-1zM367 866h1v1h-1zM368 867h1v2h-1zM369 869h1v1h-1zM370 870h1v2h-1zM396 872h1v2h-1zM397 870h1v2h-1zM398 868h1v2h-1zM399 867h1v1h-1zM400 865h1v2h-1zM401 863h1v2h-1zM402 861h1v2h-1zM403 860h1v1h-1zM408 857h1v1h-1zM411 855h1v1h-1zM416 852h1v1h-1zM428 849h1v2h-1zM429 848h1v1h-1zM430 846h1v2h-1zM431 845h1v1h-1zM432 843h1v2h-1zM433 842h1v1h-1zM434 840h1v2h-1zM435 839h1v1h-1zM440 842h1v1h-1zM459 851h1v1h-1zM460 849h1v2h-1zM461 847h1v2h-1zM462 846h1v1h-1zM463 844h1v2h-1zM464 843h1v1h-1zM465 841h1v2h-1zM466 839h1v2h-1zM467 838h1v1h-1zM470 836h1v1h-1zM471 835h1v1h-1zM474 833h1v1h-1zM475 832h1v1h-1zM480 835h1v1h-1zM483 837h1v1h-1zM486 839h1v1h-1zM487 840h1v1h-1zM490 842h1v1h-1zM491 843h1v1h-1zM492 841h1v2h-1zM493 839h1v2h-1zM494 837h1v2h-1zM495 836h1v1h-1zM496 834h1v2h-1zM497 832h1v2h-1zM498 830h1v2h-1zM508 827h1v1h-1zM509 828h1v2h-1zM510 830h1v1h-1zM511 831h1v1h-1zM512 832h1v1h-1zM513 833h1v2h-1zM514 835h1v1h-1zM515 836h1v1h-1zM520 839h1v1h-1zM523 841h1v1h-1zM524 842h1v1h-1zM525 843h1v1h-1zM526 844h1v1h-1zM527 845h1v2h-1zM528 847h1v1h-1zM529 848h1v1h-1zM530 849h1v1h-1zM540 847h1v1h-1zM541 845h1v2h-1zM542 844h1v1h-1zM543 843h1v1h-1zM544 842h1v1h-1zM545 840h1v2h-1zM546 839h1v1h-1zM547 838h1v1h-1zM550 840h1v1h-1zM551 841h1v1h-1zM554 843h1v1h-1zM555 844h1v1h-1zM556 843h1v1h-1zM557 841h1v2h-1zM558 840h1v1h-1zM559 839h1v1h-1zM560 838h1v1h-1zM561 836h1v2h-1zM562 835h1v1h-1zM572 832h1v2h-1zM573 834h1v1h-1zM574 835h1v2h-1zM575 837h1v1h-1zM576 838h1v2h-1zM577 840h1v1h-1zM578 841h1v2h-1zM579 843h1v1h-1zM580 842h1v1h-1zM581 841h1v1h-1zM584 839h1v1h-1zM585 838h1v1h-1zM586 837h1v1h-1zM598 834h1v1h-1zM599 833h1v1h-1zM602 831h1v1h-1zM603 830h1v1h-1zM604 829h1v1h-1zM605 828h1v1h-1zM608 826h1v1h-1zM609 825h1v1h-1zM610 824h1v1h-1zM611 823h1v1h-1zM612 824h1v1h-1zM613 825h1v1h-1zM614 826h1v1h-1zM615 827h1v1h-1zM616 828h1v1h-1zM617 829h1v1h-1zM618 830h1v1h-1zM635 830h1v1h-1zM636 831h1v2h-1zM637 833h1v2h-1zM638 835h1v2h-1zM639 837h1v2h-1zM640 839h1v2h-1zM641 841h1v2h-1zM642 843h1v2h-1zM643 845h1v1h-1zM652 848h1v1h-1zM653 847h1v1h-1zM656 845h1v1h-1zM657 844h1v1h-1zM658 843h1v1h-1zM668 840h1v1h-1zM669 839h1v1h-1zM670 838h1v1h-1zM671 836h1v2h-1zM672 835h1v1h-1zM673 834h1v1h-1zM674 833h1v1h-1zM694 831h1v1h-1zM695 832h1v1h-1zM698 834h1v1h-1zM732 838h1v2h-1zM733 837h1v1h-1zM734 836h1v1h-1zM735 834h1v2h-1zM736 833h1v1h-1zM737 832h1v1h-1zM738 830h1v2h-1zM747 829h1v1h-1zM748 830h1v2h-1zM749 832h1v3h-1zM750 835h1v3h-1zM751 838h1v2h-1zM752 840h1v3h-1zM753 843h1v3h-1zM754 846h1v2h-1zM755 848h1v2h-1zM760 852h1v1h-1zM763 854h1v1h-1zM764 855h1v2h-1zM765 857h1v2h-1zM766 859h1v1h-1zM767 860h1v2h-1zM768 862h1v1h-1zM769 863h1v2h-1zM770 865h1v2h-1zM780 865h1v1h-1zM781 864h1v1h-1zM784 862h1v1h-1zM785 861h1v1h-1zM786 860h1v1h-1zM787 859h1v1h-1zM788 858h1v1h-1zM789 857h1v1h-1zM790 856h1v1h-1zM791 854h1v2h-1zM792 853h1v1h-1zM793 852h1v1h-1zM794 851h1v1h-1zM820 853h1v1h-1zM821 851h1v2h-1zM822 850h1v1h-1zM823 849h1v1h-1zM824 848h1v1h-1zM825 846h1v2h-1zM826 845h1v1h-1zM827 844h1v1h-1zM830 842h1v1h-1zM831 841h1v1h-1zM834 839h1v1h-1zM835 838h1v1h-1zM838 840h1v1h-1zM839 841h1v1h-1zM842 843h1v1h-1zM843 844h1v1h-1zM846 846h1v1h-1zM847 847h1v1h-1zM850 849h1v1h-1zM859 846h1v1h-1zM860 848h1v3h-1zM861 851h1v2h-1zM862 853h1v3h-1zM863 856h1v3h-1zM864 859h1v3h-1zM865 862h1v2h-1zM866 864h1v3h-1zM867 867h1v1h-1zM884 868h1v2h-1zM885 866h1v2h-1zM886 864h1v2h-1zM887 863h1v1h-1zM888 861h1v2h-1zM889 859h1v2h-1zM890 857h1v2h-1zM891 856h1v1h-1zM894 858h1v1h-1zM895 859h1v1h-1zM898 861h1v1h-1zM899 862h1v1h-1zM900 863h1v1h-1zM901 864h1v1h-1zM904 866h1v1h-1zM905 867h1v1h-1zM906 868h1v1h-1zM907 869h1v1h-1zM908 867h1v2h-1zM909 865h1v2h-1zM910 864h1v1h-1zM911 862h1v2h-1zM912 861h1v1h-1zM913 859h1v2h-1zM914 857h1v2h-1zM939 845h1v1h-1zM940 843h1v2h-1zM941 841h1v2h-1zM942 840h1v1h-1zM943 838h1v2h-1zM944 837h1v1h-1zM945 835h1v2h-1zM946 833h1v2h-1zM956 833h1v1h-1zM957 834h1v1h-1zM960 836h1v1h-1zM961 837h1v1h-1zM962 838h1v1h-1zM1003 836h1v2h-1zM1004 834h1v2h-1zM1005 832h1v2h-1zM1006 830h1v2h-1zM1007 828h1v2h-1zM1008 826h1v2h-1zM1009 824h1v2h-1zM1010 822h1v2h-1zM1011 821h1v1h-1zM1016 818h1v1h-1zM1019 816h1v1h-1zM1024 813h1v1h-1zM1036 810h1v1h-1zM1037 811h1v1h-1zM1038 812h1v1h-1zM1039 813h1v2h-1zM1040 815h1v1h-1zM1041 816h1v1h-1zM1042 817h1v1h-1zM1059 812h1v1h-1zM1060 813h1v2h-1zM1061 815h1v1h-1zM1062 816h1v1h-1zM1063 817h1v2h-1zM1064 819h1v1h-1zM1065 820h1v1h-1zM1066 821h1v2h-1zM1067 823h1v1h-1zM1070 825h1v1h-1zM1071 826h1v1h-1zM1074 828h1v1h-1zM1084 825h1v1h-1zM1085 824h1v1h-1zM1088 822h1v1h-1zM1089 821h1v1h-1zM1090 820h1v1h-1zM1091 819h1v1h-1zM1094 817h1v1h-1zM1095 816h1v1h-1zM1098 814h1v1h-1zM1099 813h1v1h-1zM1100 814h1v1h-1zM1101 815h1v1h-1zM1102 816h1v1h-1zM1103 817h1v2h-1zM1104 819h1v1h-1zM1105 820h1v1h-1zM1106 821h1v1h-1zM1123 829h1v1h-1zM1124 830h1v1h-1zM1125 831h1v1h-1zM1126 832h1v1h-1zM1127 833h1v2h-1zM1128 835h1v1h-1zM1129 836h1v1h-1zM1130 837h1v1h-1zM1144 839h1v1h-1zM1147 841h1v1h-1zM1148 842h1v1h-1zM1149 843h1v1h-1zM1150 844h1v1h-1zM1151 845h1v1h-1zM1152 846h1v1h-1zM1153 847h1v1h-1zM1154 848h1v1h-1zM1155 849h1v1h-1zM1158 847h1v1h-1zM1159 846h1v1h-1zM1162 844h1v1h-1zM1163 843h1v1h-1zM1166 845h1v1h-1zM1167 846h1v1h-1zM1170 848h1v1h-1zM1203 840h1v1h-1zM1204 841h1v1h-1zM1205 842h1v1h-1zM1206 843h1v1h-1zM1207 844h1v2h-1zM1208 846h1v1h-1zM1209 847h1v1h-1zM1210 848h1v1h-1zM1211 849h1v1h-1zM1212 848h1v1h-1zM1213 846h1v2h-1zM1214 845h1v1h-1zM1215 844h1v1h-1zM1216 843h1v1h-1zM1217 841h1v2h-1zM1218 840h1v1h-1zM1228 839h1v2h-1zM1229 841h1v2h-1zM1230 843h1v2h-1zM1231 845h1v1h-1zM1232 846h1v2h-1zM1233 848h1v2h-1zM1234 850h1v2h-1zM1254 856h1v1h-1zM1255 857h1v1h-1zM1258 859h1v1h-1zM1276 853h1v2h-1zM1277 851h1v2h-1zM1278 849h1v2h-1zM1279 847h1v2h-1zM1280 845h1v2h-1zM1281 843h1v2h-1zM1282 841h1v2h-1zM1291 836h1v1h-1zM1292 838h1v2h-1zM1293 840h1v2h-1zM1294 842h1v3h-1zM1295 845h1v2h-1zM1296 847h1v3h-1zM1297 850h1v2h-1zM1298 852h1v2h-1zM1299 854h1v1h-1zM1316 853h1v1h-1zM1317 854h1v1h-1zM1318 855h1v1h-1zM1319 856h1v2h-1zM1320 858h1v1h-1zM1321 859h1v1h-1zM1323 861h1v1h-1zM1324 857h1v3h-1zM1325 854h1v3h-1zM1326 851h1v3h-1zM1327 848h1v3h-1zM1328 845h1v3h-1zM1329 842h1v3h-1zM1330 839h1v3h-1zM1331 838h1v1h-1zM1356 829h1v1h-1zM1357 827h1v2h-1zM1358 826h1v1h-1zM1359 825h1v1h-1zM1360 824h1v1h-1zM1361 822h1v2h-1zM1362 821h1v1h-1zM1380 819h1v2h-1zM1381 821h1v1h-1zM1382 822h1v2h-1zM1383 824h1v1h-1zM1384 825h1v2h-1zM1385 827h1v1h-1zM1386 828h1v2h-1zM1387 830h1v1h-1zM1392 833h1v1h-1zM1404 836h1v1h-1zM1405 837h1v2h-1zM1406 839h1v1h-1zM1407 840h1v1h-1zM1408 841h1v1h-1zM1409 842h1v2h-1zM1410 844h1v1h-1zM1411 845h1v2h-1zM1412 847h1v2h-1zM1413 849h1v2h-1zM1414 851h1v2h-1zM1415 853h1v3h-1zM1416 856h1v2h-1zM1417 858h1v2h-1zM1418 860h1v2h-1zM1419 862h1v1h-1z" fill="#1e90ff"/>
<path d="M0 26H1654V27H0zM1653 26h1V580h-1zM1653 581h1V752h-1zM1653 753h1V928h-1zM1654 583h1v1h-1zM1654 680h1v1h-1zM1654 750h1v1h-1zM1654 755h1v1h-1zM1654 926h1v1h-1zM0 579H1654v1H0zM0 581H1654v1H0zM0 751H1654v1H0zM0 753H1654v1H0zM0 927H1654v1H0zM1653 48h3v1h-3zM1653 81h3v1h-3zM1653 114h3v1h-3zM1653 147h3v1h-3zM1653 180h3v1h-3zM1653 213h3v1h-3zM1653 246h3v1h-3zM1653 279h3v1h-3zM1653 312h3v1h-3zM1653 345h3v1h-3zM1653 378h3v1h-3zM1653 411h3v1h-3zM1653 444h3v1h-3zM1653 477h3v1h-3zM1653 510h3v1h-3zM1653 543h3v1h-3zM1653 576h3v1h-3zM59 927h1v3h-1zM123 927h1v3h-1zM187 927h1v3h-1zM251 927h1v3h-1zM315 927h1v3h-1zM379 927h1v3h-1zM443 927h1v3h-1zM507 927h1v3h-1zM571 927h1v3h-1zM635 927h1v3h-1zM699 927h1v3h-1zM763 927h1v3h-1zM827 927h1v3h-1zM891 927h1v3h-1zM955 927h1v3h-1zM1019 927h1v3h-1zM1083 927h1v3h-1zM1147 927h1v3h-1zM1211 927h1v3h-1zM1275 927h1v3h-1zM1339 927h1v3h-1zM1403 927h1v3h-1z" fill="#000"/>
<path d="M0 37.5h6l-3-4z" fill="#000" shape-rendering="auto"/><path d="M1585 453h3v3h-3zM1586 454v1h1v-1z" fill="#00e000" fill-rule="evenodd"/><path d="M1532 459h1v1h-1zM1642 459h1v1h-1zM1586 455h1v1h-1z" fill="#ff00ff"/><path d="M1432 27h9v1h-9zM1433 28h7v1h-7zM1434 29h5v1h-5zM1435 30h3v1h-3zM1436 31h1v1h-1z" fill="#c0c0c0"/>
</svg>
<svg width="1701" height="942" viewBox="0 0 1701 942">
<path d="M1381.5 314.5L1438.2 489.4" stroke="#ff0000" stroke-width="3.2" fill="none"/><path d="M1441.0 498.0L1434.1 489.7L1441.7 487.3z" fill="#ff0000"/>
<path d="M1372.5 652.3L1452.0 679.7" stroke="#ff0000" stroke-width="3.2" fill="none"/><path d="M1461.5 683.0L1449.7 683.4L1452.5 675.4z" fill="#ff0000"/>
<path d="M1372.5 812.0L1424.0 869.8" stroke="#ff0000" stroke-width="3.2" fill="none"/><path d="M1430.0 876.5L1420.2 871.9L1426.5 866.2z" fill="#ff0000"/>
<ellipse cx="1274" cy="479.5" rx="15.3" ry="8.2" fill="none" stroke="#ff2020" stroke-opacity="0.88" stroke-width="2.8"/>
<ellipse cx="1429" cy="484.5" rx="15.6" ry="5.9" fill="none" stroke="#ff2020" stroke-opacity="0.88" stroke-width="2.8"/>
</svg>
<div class="t" style="left:1658.6px;top:43px;color:#000">31017.5</div>
<div class="t" style="left:1658.6px;top:76px;color:#000">30796.5</div>
<div class="t" style="left:1658.6px;top:109px;color:#000">30569.0</div>
<div class="t" style="left:1658.6px;top:142px;color:#000">30341.5</div>
<div class="t" style="left:1658.6px;top:175px;color:#000">30120.5</div>
<div class="t" style="left:1658.6px;top:208px;color:#000">29893.0</div>
<div class="t" style="left:1658.6px;top:241px;color:#000">29665.5</div>
<div class="t" style="left:1658.6px;top:274px;color:#000">29444.5</div>
<div class="t" style="left:1658.6px;top:307px;color:#000">29217.0</div>
<div class="t" style="left:1658.6px;top:340px;color:#000">28989.5</div>
<div class="t" style="left:1658.6px;top:373px;color:#000">28768.5</div>
<div class="t" style="left:1658.6px;top:406px;color:#000">28541.0</div>
<div class="t" style="left:1658.6px;top:439px;color:#000">28320.0</div>
<div class="t" style="left:1658.6px;top:472px;color:#000">28092.5</div>
<div class="t" style="left:1658.6px;top:505px;color:#000">27865.0</div>
<div class="t" style="left:1658.6px;top:538px;color:#000">27637.5</div>
<div class="t" style="left:1658.6px;top:571px;color:#000">27416.5</div>
<div class="tag" style="top:419px;background:#ff0000"><div>28446.8</div></div>
<div class="tag" style="top:438px;background:#ff0000"><div>28317.3</div></div>
<div class="tag" style="top:453px;background:#32cd32"><div>28215.0</div></div>
<div class="tag" style="top:464px;background:#000000"><div>28139.0</div></div>
<div class="tag" style="top:484px;background:#0000ff"><div>28003.7</div></div>
<div class="tag" style="top:499px;background:#0000ff"><div>27901.5</div></div>
<div class="t" style="left:1656.3px;top:583px;color:#000">492.11</div>
<div class="t" style="left:1656.3px;top:675px;color:#000">0.00</div>
<div class="t" style="left:1656.3px;top:739px;color:#000">-357.35</div>
<div class="t" style="left:1656.3px;top:755px;color:#000">100</div>
<div class="t" style="left:1656.3px;top:784px;color:#000">80</div>
<div class="t" style="left:1656.3px;top:835px;color:#000">50</div>
<div class="t" style="left:1656.3px;top:896px;color:#000">15</div>
<div class="t" style="left:1656.3px;top:915px;color:#000">0</div>
<div class="t" style="left:9.6px;top:29px;color:#000">HK50-,H4&nbsp; 28191.0 28257.5 28082.0 28139.0</div>
<div class="t" style="left:-0.7px;top:585px;color:#000">MACD(12,26,9) -39.45 51.94</div>
<div class="t" style="left:-0.7px;top:757px;color:#000">RSI(14) 35.6984</div>
<div class="t" style="left:-5.6px;top:931px;color:#000">18 Feb 2021</div>
<div class="t" style="left:58.4px;top:931px;color:#000">24 Feb 05:00</div>
<div class="t" style="left:122.4px;top:931px;color:#000">2 Mar 05:00</div>
<div class="t" style="left:186.4px;top:931px;color:#000">8 Mar 05:00</div>
<div class="t" style="left:250.4px;top:931px;color:#000">12 Mar 05:00</div>
<div class="t" style="left:314.4px;top:931px;color:#000">18 Mar 05:00</div>
<div class="t" style="left:378.4px;top:931px;color:#000">24 Mar 05:00</div>
<div class="t" style="left:442.4px;top:931px;color:#000">30 Mar 05:00</div>
<div class="t" style="left:506.4px;top:931px;color:#000">8 Apr 05:00</div>
<div class="t" style="left:570.4px;top:931px;color:#000">14 Apr 05:00</div>
<div class="t" style="left:634.4px;top:931px;color:#000">20 Apr 05:00</div>
<div class="t" style="left:698.4px;top:931px;color:#000">26 Apr 05:00</div>
<div class="t" style="left:762.4px;top:931px;color:#000">30 Apr 05:00</div>
<div class="t" style="left:826.4px;top:931px;color:#000">6 May 05:00</div>
<div class="t" style="left:890.4px;top:931px;color:#000">12 May 05:00</div>
<div class="t" style="left:954.4px;top:931px;color:#000">18 May 05:00</div>
<div class="t" style="left:1018.4px;top:931px;color:#000">25 May 05:00</div>
<div class="t" style="left:1082.4px;top:931px;color:#000">31 May 05:00</div>
<div class="t" style="left:1146.4px;top:931px;color:#000">4 Jun 05:00</div>
<div class="t" style="left:1210.4px;top:931px;color:#000">10 Jun 05:00</div>
<div class="t" style="left:1274.4px;top:931px;color:#000">17 Jun 05:00</div>
<div class="t" style="left:1338.4px;top:931px;color:#000">23 Jun 05:00</div>
<div class="t" style="left:1402.4px;top:931px;color:#000">30 Jun 01:15</div>
<div class="tbox">多空转折点</div>
<div id="edge"></div>
<svg id="pn" width="220" height="60" viewBox="0 44 220 60" style="top:44px">
<defs>
<linearGradient id="rTop" x1="0" y1="0" x2="0" y2="1"><stop offset="0" stop-color="#fc5252"/><stop offset="1" stop-color="#e03232"/></linearGradient>
<linearGradient id="rBot" x1="0" y1="0" x2="0" y2="1"><stop offset="0" stop-color="#dc2c2c"/><stop offset="0.85" stop-color="#b80606"/><stop offset="1" stop-color="#a80000"/></linearGradient>
<linearGradient id="bBtn" x1="0" y1="0" x2="0" y2="1"><stop offset="0" stop-color="#f4f4f4"/><stop offset="0.36" stop-color="#ececec"/><stop offset="0.38" stop-color="#dcdcdc"/><stop offset="1" stop-color="#d4d4d4"/></linearGradient>
</defs>
<g shape-rendering="crispEdges">
<rect x="0" y="46" width="217" height="57" fill="#fff"/>
<rect x="0" y="70" width="107" height="33" fill="url(#rBot)"/>
<rect x="109" y="70" width="108" height="33" fill="url(#rBot)"/>
<path d="M49 70h58v33h-1v-32h-57zM109 70h57v1h-56v32h-1zM216 70h1v33h-1z" fill="#b40000"/>
<rect x="0" y="102" width="107" height="1" fill="#a00000"/><rect x="109" y="102" width="108" height="1" fill="#a00000"/>
<rect x="0" y="46" width="50" height="25" fill="url(#rTop)"/>
<rect x="165" y="46" width="52" height="25" fill="url(#rTop)"/>
<path d="M0 46h50v25h-1v-24h-49zM165 46h52v25h-1v-24h-50v24h-1z" fill="#c00000"/>
<rect x="2" y="69" width="44" height="1" fill="#8b0000"/><rect x="2" y="70" width="44" height="1" fill="#ff6e6e"/>
<rect x="169" y="69" width="44" height="1" fill="#8b0000"/><rect x="169" y="70" width="44" height="1" fill="#ff6e6e"/>
<rect x="52" y="46" width="112" height="22" fill="#fff"/>
<path d="M52 46h112v22h-112zM53 47v20h110v-20z" fill="#a6aab4" fill-rule="evenodd"/>
<rect x="73" y="47" width="1" height="20" fill="#a6aab4"/><rect x="141" y="47" width="1" height="20" fill="#a6aab4"/>
<rect x="54" y="48" width="18" height="18" fill="url(#bBtn)"/><rect x="143" y="48" width="19" height="18" fill="url(#bBtn)"/>
<path d="M60 55h5v1h-5zM61 56h3v1h-3zM62 57h1v1h-1z" fill="#4a62c8"/>
<path d="M152 55h1v1h-1zM151 56h3v1h-3zM150 57h5v1h-5z" fill="#4a62c8"/>
</g>
<text x="9.6" y="62" font-size="12.6" font-family="Liberation Sans, sans-serif" fill="#fff" textLength="27.2" lengthAdjust="spacingAndGlyphs">SELL</text>
<text x="177.8" y="62" font-size="12.6" font-family="Liberation Sans, sans-serif" fill="#fff" textLength="24.4" lengthAdjust="spacingAndGlyphs">BUY</text>
<text x="114.4" y="61" font-size="12" font-family="Liberation Sans, sans-serif" fill="#000" textLength="23.6" lengthAdjust="spacingAndGlyphs">1.00</text>
<text x="13.6" y="97.8" font-size="12" font-weight="bold" font-family="Liberation Sans, sans-serif" fill="#fff" textLength="35.6" lengthAdjust="spacingAndGlyphs">28137</text>
<text x="123.6" y="97.8" font-size="12" font-weight="bold" font-family="Liberation Sans, sans-serif" fill="#fff" textLength="35.6" lengthAdjust="spacingAndGlyphs">28156</text>
<text x="51.2" y="98.6" font-size="34.5" font-family="Liberation Sans, sans-serif" fill="#fff" textLength="25" lengthAdjust="spacingAndGlyphs">.5</text>
<text x="162.2" y="98.6" font-size="34.5" font-family="Liberation Sans, sans-serif" fill="#fff" textLength="25" lengthAdjust="spacingAndGlyphs">.5</text>
</svg>
<svg id="tb" width="1701" height="26" viewBox="0 0 1701 26">
<defs>
<linearGradient id="gGreen" x1="0" y1="0" x2="0" y2="1"><stop offset="0" stop-color="#7dff7d"/><stop offset="1" stop-color="#10b010"/></linearGradient>
<linearGradient id="gGold" x1="0" y1="0" x2="1" y2="1"><stop offset="0" stop-color="#ffe070"/><stop offset="0.6" stop-color="#e8b020"/><stop offset="1" stop-color="#b07808"/></linearGradient>
<linearGradient id="gBlue" x1="0" y1="0" x2="0" y2="1"><stop offset="0" stop-color="#55b5ff"/><stop offset="1" stop-color="#1a6fd0"/></linearGradient>
<linearGradient id="gRed" x1="0" y1="0" x2="0" y2="1"><stop offset="0" stop-color="#ea5a3c"/><stop offset="1" stop-color="#d81c08"/></linearGradient>
<linearGradient id="gLens" x1="0" y1="0" x2="0" y2="1"><stop offset="0" stop-color="#eaf4ff"/><stop offset="1" stop-color="#b8d8f8"/></linearGradient>
<radialGradient id="gBook" cx="0.45" cy="0.4" r="0.7"><stop offset="0" stop-color="#ffe45c"/><stop offset="0.6" stop-color="#f0bc1c"/><stop offset="1" stop-color="#c88a08"/></radialGradient>
<linearGradient id="gCloud" x1="0" y1="0" x2="0" y2="1"><stop offset="0" stop-color="#ffffff"/><stop offset="1" stop-color="#c4d0e6"/></linearGradient>
<linearGradient id="gSweep" x1="0" y1="0" x2="1" y2="1"><stop offset="0" stop-color="#d8ecd0" stop-opacity="0.55"/><stop offset="1" stop-color="#4aa840" stop-opacity="0.85"/></linearGradient>
<linearGradient id="gHat" x1="0" y1="0" x2="0" y2="1"><stop offset="0" stop-color="#8ad0f0"/><stop offset="1" stop-color="#3f9ed0"/></linearGradient>
<linearGradient id="gFace" x1="0" y1="0" x2="1" y2="1"><stop offset="0" stop-color="#ffe860"/><stop offset="1" stop-color="#f0b818"/></linearGradient>
<linearGradient id="gSig" x1="0" y1="0" x2="1" y2="0"><stop offset="0" stop-color="#3a6fe0"/><stop offset="0.5" stop-color="#5a90c0"/><stop offset="1" stop-color="#58b040"/></linearGradient>
</defs>
<g shape-rendering="crispEdges">
<rect x="0" y="0" width="1701" height="22" fill="#f0f0f0"/>
<rect x="0" y="21" width="1701" height="1" fill="#f6f6f6"/>
<rect x="0" y="22" width="1700" height="1" fill="#a6a6a6"/>
<rect x="0" y="23" width="1699" height="1" fill="#666666"/>
<rect x="0" y="24" width="1699" height="2" fill="#ffffff"/>
<rect x="1700" y="22" width="1" height="4" fill="#ffffff"/><rect x="1699" y="23" width="1" height="3" fill="#e4e4e4"/>
<rect x="289" y="0" width="24" height="20" fill="#f8f8f8"/>
<rect x="288" y="0" width="1" height="20" fill="#a0a0a0"/>
<rect x="313" y="0" width="1" height="21" fill="#ffffff"/>
<rect x="288" y="20" width="25" height="1" fill="#ffffff"/>
<rect x="441" y="0" width="24" height="20" fill="#f8f8f8"/>
<rect x="440" y="0" width="1" height="20" fill="#a0a0a0"/>
<rect x="465" y="0" width="1" height="21" fill="#ffffff"/>
<rect x="440" y="20" width="25" height="1" fill="#ffffff"/>
<rect x="469" y="0" width="24" height="20" fill="#f8f8f8"/>
<rect x="468" y="0" width="1" height="20" fill="#a0a0a0"/>
<rect x="493" y="0" width="1" height="21" fill="#ffffff"/>
<rect x="468" y="20" width="25" height="1" fill="#ffffff"/>
<rect x="629" y="0" width="24" height="20" fill="#f8f8f8"/>
<rect x="628" y="0" width="1" height="20" fill="#a0a0a0"/>
<rect x="653" y="0" width="1" height="21" fill="#ffffff"/>
<rect x="628" y="20" width="25" height="1" fill="#ffffff"/>
<rect x="1075" y="0" width="24" height="20" fill="#f8f8f8"/>
<rect x="1074" y="0" width="1" height="20" fill="#a0a0a0"/>
<rect x="1099" y="0" width="1" height="21" fill="#ffffff"/>
<rect x="1074" y="20" width="25" height="1" fill="#ffffff"/>
<rect x="14" y="0" width="1" height="20" fill="#a0a0a0"/>
<rect x="345" y="0" width="1" height="20" fill="#a0a0a0"/>
<rect x="435" y="0" width="1" height="20" fill="#a0a0a0"/>
<rect x="497" y="0" width="1" height="20" fill="#a0a0a0"/>
<rect x="685" y="0" width="1" height="20" fill="#a0a0a0"/>
<rect x="1185" y="0" width="1" height="20" fill="#a0a0a0"/>
<rect x="250" y="0" width="1" height="22" fill="#c8c8c8"/>
<rect x="251" y="0" width="1" height="22" fill="#ffffff"/>
<rect x="254" y="0" width="3" height="1" fill="#a0a0a0"/>
<rect x="254" y="2" width="3" height="1" fill="#a0a0a0"/>
<rect x="254" y="4" width="3" height="1" fill="#a0a0a0"/>
<rect x="254" y="6" width="3" height="1" fill="#a0a0a0"/>
<rect x="254" y="8" width="3" height="1" fill="#a0a0a0"/>
<rect x="254" y="10" width="3" height="1" fill="#a0a0a0"/>
<rect x="254" y="12" width="3" height="1" fill="#a0a0a0"/>
<rect x="254" y="14" width="3" height="1" fill="#a0a0a0"/>
<rect x="254" y="16" width="3" height="1" fill="#a0a0a0"/>
<rect x="254" y="18" width="3" height="1" fill="#a0a0a0"/>
<rect x="618" y="0" width="1" height="22" fill="#c8c8c8"/>
<rect x="619" y="0" width="1" height="22" fill="#ffffff"/>
<rect x="622" y="0" width="3" height="1" fill="#a0a0a0"/>
<rect x="622" y="2" width="3" height="1" fill="#a0a0a0"/>
<rect x="622" y="4" width="3" height="1" fill="#a0a0a0"/>
<rect x="622" y="6" width="3" height="1" fill="#a0a0a0"/>
<rect x="622" y="8" width="3" height="1" fill="#a0a0a0"/>
<rect x="622" y="10" width="3" height="1" fill="#a0a0a0"/>
<rect x="622" y="12" width="3" height="1" fill="#a0a0a0"/>
<rect x="622" y="14" width="3" height="1" fill="#a0a0a0"/>
<rect x="622" y="16" width="3" height="1" fill="#a0a0a0"/>
<rect x="622" y="18" width="3" height="1" fill="#a0a0a0"/>
<rect x="924" y="0" width="1" height="22" fill="#c8c8c8"/>
<rect x="925" y="0" width="1" height="22" fill="#ffffff"/>
<rect x="928" y="0" width="3" height="1" fill="#a0a0a0"/>
<rect x="928" y="2" width="3" height="1" fill="#a0a0a0"/>
<rect x="928" y="4" width="3" height="1" fill="#a0a0a0"/>
<rect x="928" y="6" width="3" height="1" fill="#a0a0a0"/>
<rect x="928" y="8" width="3" height="1" fill="#a0a0a0"/>
<rect x="928" y="10" width="3" height="1" fill="#a0a0a0"/>
<rect x="928" y="12" width="3" height="1" fill="#a0a0a0"/>
<rect x="928" y="14" width="3" height="1" fill="#a0a0a0"/>
<rect x="928" y="16" width="3" height="1" fill="#a0a0a0"/>
<rect x="928" y="18" width="3" height="1" fill="#a0a0a0"/>
<path d="M268 5h1v13h-1zM266 15h13v1h-13zM267 5h3v1h-3zM268 4h1v1h-1zM278 14h1v3h-1zM279 15h1v1h-1z" fill="#555"/>
<path d="M296 5h1v13h-1zM294 15h13v1h-13zM295 5h3v1h-3zM296 4h1v1h-1zM306 14h1v3h-1zM307 15h1v1h-1z" fill="#555"/>
<path d="M324 5h1v13h-1zM322 15h13v1h-13zM323 5h3v1h-3zM324 4h1v1h-1zM334 14h1v3h-1zM335 15h1v1h-1z" fill="#555"/>
<path d="M448 5h1v13h-1zM446 15h13v1h-13zM447 5h3v1h-3zM448 4h1v1h-1zM458 14h1v3h-1zM459 15h1v1h-1z" fill="#555"/>
<path d="M476 5h1v13h-1zM474 15h13v1h-13zM475 5h3v1h-3zM476 4h1v1h-1zM486 14h1v3h-1zM487 15h1v1h-1z" fill="#555"/>
<path d="M275 5h1v9h-1zM276 5h2v1h-2zM273 12h2v1h-2z" fill="#1a9a1a"/>
<path d="M302 2h1v12h-1z" fill="#108a10"/><rect x="300" y="4" width="5" height="8" fill="#30d030"/><path d="M300 4h5v8h-5zM301 5v6h3v-6z" fill="#108a10" fill-rule="evenodd"/>
<path d="M668 3h1v15h-1zM661 10h15v1h-15z" fill="#444"/>
<rect x="702" y="4" width="1" height="13" fill="#444"/>
<rect x="725" y="10" width="12" height="1" fill="#444"/>
<rect x="808" y="3" width="1" height="1" fill="#444"/>
<rect x="810" y="3" width="1" height="1" fill="#444"/>
<rect x="812" y="3" width="1" height="1" fill="#444"/>
<rect x="814" y="3" width="1" height="1" fill="#444"/>
<rect x="816" y="3" width="1" height="1" fill="#444"/>
<rect x="818" y="3" width="1" height="1" fill="#444"/>
<rect x="820" y="3" width="1" height="1" fill="#444"/>
<rect x="808" y="6" width="1" height="1" fill="#444"/>
<rect x="810" y="6" width="1" height="1" fill="#444"/>
<rect x="812" y="6" width="1" height="1" fill="#444"/>
<rect x="814" y="6" width="1" height="1" fill="#444"/>
<rect x="816" y="6" width="1" height="1" fill="#444"/>
<rect x="818" y="6" width="1" height="1" fill="#444"/>
<rect x="820" y="6" width="1" height="1" fill="#444"/>
<rect x="808" y="10" width="1" height="1" fill="#444"/>
<rect x="810" y="10" width="1" height="1" fill="#444"/>
<rect x="812" y="10" width="1" height="1" fill="#444"/>
<rect x="814" y="10" width="1" height="1" fill="#444"/>
<rect x="816" y="10" width="1" height="1" fill="#444"/>
<rect x="818" y="10" width="1" height="1" fill="#444"/>
<rect x="820" y="10" width="1" height="1" fill="#444"/>
<rect x="808" y="14" width="1" height="1" fill="#444"/>
<rect x="810" y="14" width="1" height="1" fill="#444"/>
<rect x="812" y="14" width="1" height="1" fill="#444"/>
<rect x="814" y="14" width="1" height="1" fill="#444"/>
<rect x="816" y="14" width="1" height="1" fill="#444"/>
<rect x="865" y="4" width="1" height="1" fill="#444"/><rect x="865" y="16" width="1" height="1" fill="#444"/>
<rect x="867" y="4" width="1" height="1" fill="#444"/><rect x="867" y="16" width="1" height="1" fill="#444"/>
<rect x="869" y="4" width="1" height="1" fill="#444"/><rect x="869" y="16" width="1" height="1" fill="#444"/>
<rect x="871" y="4" width="1" height="1" fill="#444"/><rect x="871" y="16" width="1" height="1" fill="#444"/>
<rect x="873" y="4" width="1" height="1" fill="#444"/><rect x="873" y="16" width="1" height="1" fill="#444"/>
<rect x="875" y="4" width="1" height="1" fill="#444"/><rect x="875" y="16" width="1" height="1" fill="#444"/>
<rect x="865" y="4" width="1" height="1" fill="#444"/><rect x="876" y="4" width="1" height="1" fill="#444"/>
<rect x="865" y="6" width="1" height="1" fill="#444"/><rect x="876" y="6" width="1" height="1" fill="#444"/>
<rect x="865" y="8" width="1" height="1" fill="#444"/><rect x="876" y="8" width="1" height="1" fill="#444"/>
<rect x="865" y="10" width="1" height="1" fill="#444"/><rect x="876" y="10" width="1" height="1" fill="#444"/>
<rect x="865" y="12" width="1" height="1" fill="#444"/><rect x="876" y="12" width="1" height="1" fill="#444"/>
<rect x="865" y="14" width="1" height="1" fill="#444"/><rect x="876" y="14" width="1" height="1" fill="#444"/>
<rect x="865" y="16" width="1" height="1" fill="#444"/><rect x="876" y="16" width="1" height="1" fill="#444"/>
<rect x="864" y="3" width="2" height="2" fill="#444"/>
<path d="M529 9h5v1h-5zM530 10h3v1h-3zM531 11h1v1h-1z" fill="#000"/>
<path d="M568 9h5v1h-5zM569 10h3v1h-3zM570 11h1v1h-1z" fill="#000"/>
<path d="M607 9h5v1h-5zM608 10h3v1h-3zM609 11h1v1h-1z" fill="#000"/>
<path d="M913 9h5v1h-5zM914 10h3v1h-3zM915 11h1v1h-1z" fill="#000"/>
</g>
<circle cx="-3.6" cy="9.6" r="6" fill="#eef4fb" stroke="#86b4ea" stroke-width="1.3"/><path d="M0 13.6L1.2 15" stroke="#3a4a70" stroke-width="1.4"/><path d="M2.6 14.6L5.8 18.2" stroke="#b8901c" stroke-width="3.2"/><path d="M3 14.2L6.2 17.8" stroke="#e6c24a" stroke-width="1.2"/>
<path d="M25.6 2.8h6.6l3.4 3.4v8.4q0 1.2-1.2 1.2h-8.8q-1.2 0-1.2-1.2v-10.6q0-1.2 1.2-1.2z" fill="#fdfdfd" stroke="#858585" stroke-width="1.2"/><path d="M32.2 2.8v2.6q0 0.8 0.8 0.8h2.6" fill="#ffffff" stroke="#858585" stroke-width="1"/><path d="M26.2 4.8h2.8" stroke="#8c8c8c" stroke-width="1.6"/><path d="M26.2 8.4h5.6M26.2 10.5h4.6M26.2 12.5h3" stroke="#9a9a9a" stroke-width="0.9"/>
<path d="M32 8.5h4v3.5h3.5v4h-3.5v3.5h-4v-3.5h-3.5v-4h3.5z" fill="url(#gGreen)" stroke="#0a8e0a" stroke-width="1" stroke-linejoin="miter"/>
<path d="M98.6 15L106.2 9.4L106.9 12L99.2 17.6z" fill="#d8b660" stroke="#8e5c06" stroke-width="0.9"/><path d="M96.6 3L106.2 9.3L98.6 15.2L91.3 11.8q1-1.2 1.9-2.2q1.2-1.4 1.6-2.6z" fill="url(#gBook)" stroke="#9a6408" stroke-width="1"/><path d="M91.3 11.8L99.2 17.6" stroke="#8e5c06" stroke-width="1.1"/><path d="M99 16.2L106.4 10.7" stroke="#f4e4a8" stroke-width="0.7"/>
<path d="M121.4 3.8L124.4 2.2H131.6L132.2 3v8.4H121.4z" fill="#2a9ef6" stroke="#1486ea" stroke-width="0.8"/><path d="M121.4 3.8L124.8 5.2V11.4H121.4z" fill="#0a8cf0"/><path d="M121.6 3.8L124.8 5.2H132" fill="none" stroke="#d8f0ff" stroke-width="0.9"/><path d="M126.2 7.4l4.4-0.8" stroke="#f4fbff" stroke-width="1.1"/>
<path d="M121.8 17.3a3.2 3.2 0 0 1 -0.4 -6.3a4.3 4.3 0 0 1 7.4 -1.1a3.2 3.2 0 0 1 5.1 2.5a2.6 2.6 0 0 1 -0.6 4.9z" fill="url(#gCloud)" stroke="#5f7cb8" stroke-width="1"/><path d="M121.2 17.4h12.6" stroke="#4868a8" stroke-width="0.9"/>
<path d="M155 1.9A7.9 7.9 0 0 1 155 17.7z" fill="url(#gSweep)"/><g fill="none" stroke="#7f9fe4"><circle cx="155" cy="9.8" r="7.7" stroke-width="1" opacity="0.6"/><circle cx="155" cy="9.8" r="5.6" stroke-width="1" opacity="0.5"/><circle cx="155" cy="9.8" r="3.6" stroke-width="1" opacity="0.5"/></g><path d="M155 2.1A7.7 7.7 0 0 1 155 17.5" fill="none" stroke="#5a9a88" stroke-width="1" opacity="0.7"/><circle cx="154.8" cy="9.6" r="2" fill="#2454d4"/><path d="M155.4 10V17.6" stroke="#1ea01e" stroke-width="1.5"/>
<path d="M174.6 9.6L189.6 8.8L188 13L182.6 17.8L181 17.6z" fill="url(#gFace)" stroke="#d8a818" stroke-width="0.8"/><ellipse cx="182" cy="7.3" rx="8" ry="2.7" fill="url(#gHat)" stroke="#2a86b0" stroke-width="0.9"/><path d="M177.8 6.8c0.2-3.2 1.8-4.9 4.2-4.9s4 1.7 4.2 4.9c-2 0.9-6.4 0.9-8.4 0z" fill="#84ccee" stroke="#2a86b0" stroke-width="0.8"/>
<circle cx="186.4" cy="13.6" r="4.1" fill="#e62400" stroke="#b41400" stroke-width="0.7"/><rect x="185" y="12.2" width="2.8" height="2.8" fill="#fff"/>
<path d="M323 13c3-1 4-6 6.5-6s3.5 3.5 6.5 4.5" fill="none" stroke="#2a9a2a" stroke-width="1.3"/>
<path d="M363.5 12.5L368 17" stroke="#c8a020" stroke-width="3" stroke-linecap="round"/><path d="M363.5 12.5L368 17" stroke="#f0d870" stroke-width="1.2" stroke-linecap="round"/>
<circle cx="360" cy="8" r="5.5" fill="url(#gLens)" stroke="#3f7fd0" stroke-width="1.5"/>
<path d="M357 8h6" stroke="#3878c8" stroke-width="1.8"/>
<path d="M360 5v6" stroke="#3878c8" stroke-width="1.8"/>
<path d="M391.5 12.5L396 17" stroke="#c8a020" stroke-width="3" stroke-linecap="round"/><path d="M391.5 12.5L396 17" stroke="#f0d870" stroke-width="1.2" stroke-linecap="round"/>
<circle cx="388" cy="8" r="5.5" fill="url(#gLens)" stroke="#3f7fd0" stroke-width="1.5"/>
<path d="M385 8h6" stroke="#3878c8" stroke-width="1.8"/>
<rect x="410" y="2" width="8" height="8" fill="#3aa61a" stroke="#2a8a10" stroke-width="0.6"/><rect x="411.5" y="5.6" width="5" height="3.2" fill="#f4f8ff"/><rect x="412.2" y="6.8" width="3.6" height="0.9" fill="#3aa61a" opacity="0.6"/>
<rect x="418" y="2" width="8" height="8" fill="#2a62e0" stroke="#1a48b8" stroke-width="0.6"/><rect x="419.5" y="5.6" width="5" height="3.2" fill="#f4f8ff"/><rect x="420.2" y="6.8" width="3.6" height="0.9" fill="#2a62e0" opacity="0.6"/>
<rect x="410" y="10" width="8" height="8" fill="#2a62e0" stroke="#1a48b8" stroke-width="0.6"/><rect x="411.5" y="13.6" width="5" height="3.2" fill="#f4f8ff"/><rect x="412.2" y="14.8" width="3.6" height="0.9" fill="#2a62e0" opacity="0.6"/>
<rect x="418" y="10" width="8" height="8" fill="#3aa61a" stroke="#2a8a10" stroke-width="0.6"/><rect x="419.5" y="13.6" width="5" height="3.2" fill="#f4f8ff"/><rect x="420.2" y="14.8" width="3.6" height="0.9" fill="#3aa61a" opacity="0.6"/>
<path d="M453.5 6L457 9.8L453.5 13.5z" fill="#58e058" stroke="#189a18" stroke-width="1"/>
<rect x="481.6" y="4" width="1.4" height="10" fill="#2a78b0"/><path d="M488.5 9.5H484" stroke="#d04010" stroke-width="1.2"/><path d="M483.2 9.5L486.4 6.8L485.8 9.5L486.4 12.2z" fill="#e04a10"/>
<path d="M507.5 3h7.5l3.5 3.5v9h-11z" fill="#fbfbfb" stroke="#8a8a8a" stroke-width="1"/><path d="M515 3v3.5h3.5" fill="#e4e4e4" stroke="#8a8a8a" stroke-width="1"/><path d="M511.5 6c-1.2 0-1.5 0.6-1.5 1.6v1.6l-0.8 0.6l0.8 0.6v1.8c0 1 0.3 1.5 1.5 1.5" fill="none" stroke="#5a5a4a" stroke-width="0.9"/>
<path d="M515.5 8.5h4v3.5h3.5v4h-3.5v3.5h-4v-3.5h-3.5v-4h3.5z" fill="url(#gGreen)" stroke="#0a8e0a" stroke-width="1" stroke-linejoin="miter"/>
<circle cx="553" cy="9.9" r="6.9" fill="#f6f9fd" stroke="#1c6ad2" stroke-width="2.3"/><circle cx="553" cy="9.9" r="8" fill="none" stroke="#0d3f90" stroke-width="0.5" opacity="0.8"/><circle cx="553" cy="9.9" r="5.9" fill="none" stroke="#6aa8f0" stroke-width="0.6"/><path d="M552.6 6.4v3.6h2.8" fill="none" stroke="#303030" stroke-width="1"/><path d="M553 4.8v0.9M553 14.2v0.9M548 10h0.9M557.2 10h0.9M549.6 6.4l0.5 0.5M556.4 6.4l-0.5 0.5M549.6 13.4l0.5-0.5M556.4 13.4l-0.5-0.5" stroke="#90a4c4" stroke-width="0.7"/>
<rect x="584.5" y="3.5" width="15" height="13" fill="#fdfdff" stroke="#3a6cc0" stroke-width="1"/><rect x="585" y="4" width="14" height="2" fill="#5a90e0"/><path d="M585 10.5h14" stroke="#7aa0d8" stroke-width="0.9"/><path d="M586 9l3-0.6l2.5-1.2l2.5 0.8l3.5-1.6" fill="none" stroke="#b01808" stroke-width="1.3"/><path d="M587 14l2.5-0.8l2 0.6l3-2.2l3 2.6" fill="none" stroke="#18a018" stroke-width="1.3"/>
<path d="M636 2.8L636 14.6L638.9 12L641.2 17L643.2 16L641 11.2L644.4 10.8z" fill="#454545"/>
<path d="M752.5 17L765.5 4.5" stroke="#444" stroke-width="1.2"/>
<g stroke="#444" stroke-width="1" fill="none"><path d="M779 12.5L789 4M781 16.5L791 8M784 16.5L793 8.5"/><path d="M782 9.5l-1.5 7M785.5 6.5l-1.5 9M789 4l-1.5 9M791.5 2.5l-1 8"/></g>
<circle cx="1655.6" cy="7.4" r="3.9" fill="#fbfbff" stroke="#2a62d8" stroke-width="1.3"/><path d="M1652.6 10.6L1648 15" stroke="#1f55cc" stroke-width="2.6" stroke-linecap="round"/>
<path d="M1673 12.5c0-3 2.5-5 6.5-5s6.5 2 6.5 5s-3 4.5-6.5 4.5c-0.8 0-1.6-0.1-2.4-0.3l-2.2 1.8l0.3-2.6c-1.4-0.8-2.2-2-2.2-3.4z" fill="#e4e6ee" stroke="#a8a8a8" stroke-width="0.9"/>
<circle cx="1686.4" cy="7.5" r="8.2" fill="url(#gRed)"/>
<text x="42.3" y="13.6" font-size="12" font-family="Liberation Sans, Noto Sans CJK SC, sans-serif" fill="#000" textLength="37.2" lengthAdjust="spacingAndGlyphs">新订单</text>
<text x="194.8" y="13.6" font-size="12" font-family="Liberation Sans, Noto Sans CJK SC, sans-serif" fill="#000" textLength="48.4" lengthAdjust="spacingAndGlyphs">自动交易</text>
<text x="938.8" y="14" font-size="10.17" text-rendering="geometricPrecision" font-family="Liberation Sans, Noto Sans CJK SC, sans-serif" fill="#3c3c3c" textLength="13.8" lengthAdjust="spacingAndGlyphs">M1</text>
<text x="967.1" y="14" font-size="10.17" text-rendering="geometricPrecision" font-family="Liberation Sans, Noto Sans CJK SC, sans-serif" fill="#3c3c3c" textLength="13.8" lengthAdjust="spacingAndGlyphs">M5</text>
<text x="993.1" y="14" font-size="10.17" text-rendering="geometricPrecision" font-family="Liberation Sans, Noto Sans CJK SC, sans-serif" fill="#3c3c3c" textLength="18.7" lengthAdjust="spacingAndGlyphs">M15</text>
<text x="1021.0" y="14" font-size="10.17" text-rendering="geometricPrecision" font-family="Liberation Sans, Noto Sans CJK SC, sans-serif" fill="#3c3c3c" textLength="18.7" lengthAdjust="spacingAndGlyphs">M30</text>
<text x="1051.9" y="14" font-size="10.17" text-rendering="geometricPrecision" font-family="Liberation Sans, Noto Sans CJK SC, sans-serif" fill="#3c3c3c" textLength="12.6" lengthAdjust="spacingAndGlyphs">H1</text>
<text x="1079.0" y="14" font-size="10.17" text-rendering="geometricPrecision" font-family="Liberation Sans, Noto Sans CJK SC, sans-serif" fill="#3c3c3c" textLength="13.5" lengthAdjust="spacingAndGlyphs">H4</text>
<text x="1108.0" y="14" font-size="10.17" text-rendering="geometricPrecision" font-family="Liberation Sans, Noto Sans CJK SC, sans-serif" fill="#3c3c3c" textLength="12.7" lengthAdjust="spacingAndGlyphs">D1</text>
<text x="1135.2" y="14" font-size="10.17" text-rendering="geometricPrecision" font-family="Liberation Sans, Noto Sans CJK SC, sans-serif" fill="#3c3c3c" textLength="15.3" lengthAdjust="spacingAndGlyphs">W1</text>
<text x="1161.9" y="14" font-size="10.17" text-rendering="geometricPrecision" font-family="Liberation Sans, Noto Sans CJK SC, sans-serif" fill="#3c3c3c" textLength="15.7" lengthAdjust="spacingAndGlyphs">MN</text>
<text x="838.3" y="15" font-size="12.6" font-family="Liberation Sans, Noto Sans CJK SC, sans-serif" fill="#444" stroke="#444" stroke-width="0.35" textLength="8.6" lengthAdjust="spacingAndGlyphs">A</text>
<text x="866.6" y="15" font-size="11.8" font-weight="bold" font-family="Liberation Sans, Noto Sans CJK SC, sans-serif" fill="#4a4a4a" textLength="8.6" lengthAdjust="spacingAndGlyphs">T</text>
<text x="789.4" y="18.6" font-size="6.6" font-weight="bold" font-family="Liberation Sans, Noto Sans CJK SC, sans-serif" fill="#333" textLength="5" lengthAdjust="spacingAndGlyphs">E</text>
<text x="817.4" y="18.6" font-size="6.6" font-weight="bold" font-family="Liberation Sans, Noto Sans CJK SC, sans-serif" fill="#333" textLength="5" lengthAdjust="spacingAndGlyphs">F</text>
<text x="1682.6" y="12" font-size="12.5" font-family="Liberation Serif, serif" fill="#fff" textLength="6.6" lengthAdjust="spacingAndGlyphs">1</text>
<path d="M895.5 4L899 7.5L895.5 7.5L892 7.5zM892.5 8h6l-3 0z" fill="#444"/><path d="M892 7.5L895.5 4L899 7.5z" fill="#444"/><path d="M899 13L902.5 16.8L906 13z" fill="#444"/><path d="M894 10.5l2.5 2.6l5-6" fill="none" stroke="#444" stroke-width="1.5"/>
</svg>
</body></html>
